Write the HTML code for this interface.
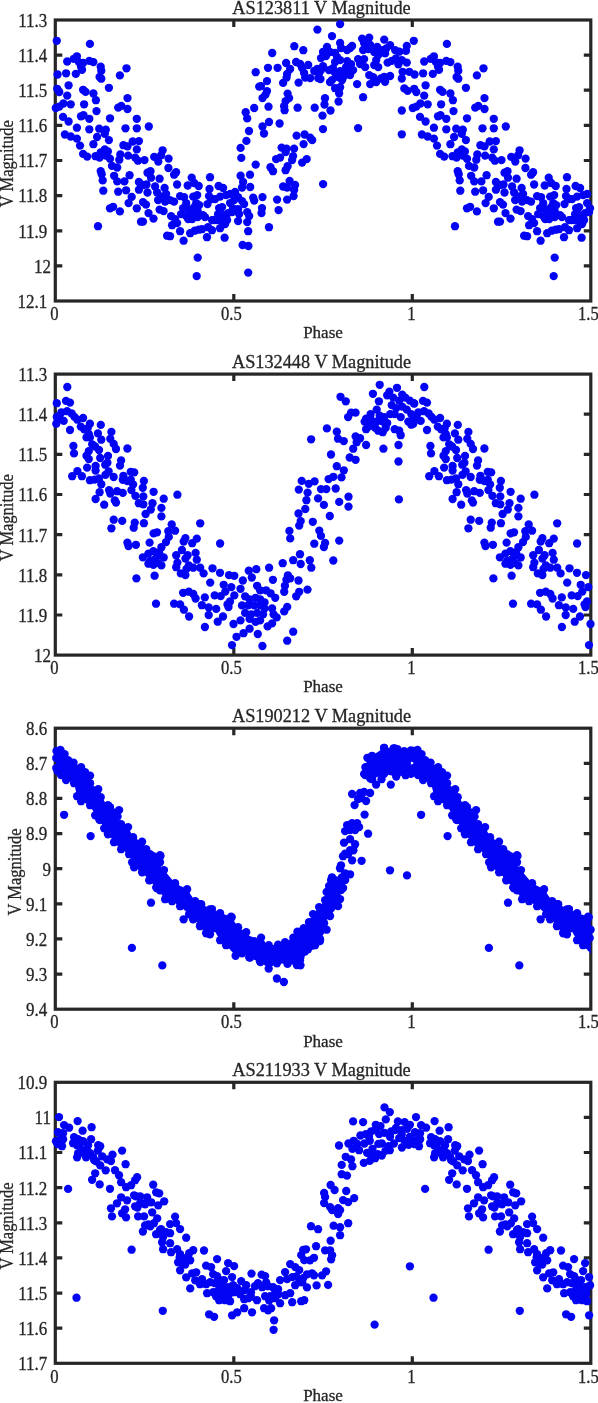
<!DOCTYPE html><html><head><meta charset="utf-8"><style>html,body{margin:0;padding:0;background:#fff;overflow:hidden}svg{display:block}text{filter:grayscale(1);stroke:#262626;stroke-width:0.3px}</style></head><body>
<svg width="598" height="1403" viewBox="0 0 598 1403" font-family="Liberation Serif" fill="#262626">
<defs><clipPath id="clipR"><rect x="0" y="0" width="595.5" height="1403"/></clipPath><clipPath id="clipD"><rect x="0" y="0" width="590.8" height="1403"/></clipPath></defs>
<rect x="55.3" y="20.0" width="535.5" height="281.0" fill="none" stroke="#262626" stroke-width="3.2"/>
<path d="M55.3 55.1h7M590.8 55.1h-7M55.3 90.2h7M590.8 90.2h-7M55.3 125.4h7M590.8 125.4h-7M55.3 160.5h7M590.8 160.5h-7M55.3 195.6h7M590.8 195.6h-7M55.3 230.8h7M590.8 230.8h-7M55.3 265.9h7M590.8 265.9h-7M233.8 20.0v7M233.8 301.0v-7M412.3 20.0v7M412.3 301.0v-7" stroke="#262626" stroke-width="3.2" fill="none"/>
<text transform="translate(47.3,26.8) scale(0.93,1)" font-size="18.3" text-anchor="end">11.3</text>
<text transform="translate(47.3,61.9) scale(0.93,1)" font-size="18.3" text-anchor="end">11.4</text>
<text transform="translate(47.3,97.0) scale(0.93,1)" font-size="18.3" text-anchor="end">11.5</text>
<text transform="translate(47.3,132.2) scale(0.93,1)" font-size="18.3" text-anchor="end">11.6</text>
<text transform="translate(47.3,167.3) scale(0.93,1)" font-size="18.3" text-anchor="end">11.7</text>
<text transform="translate(47.3,202.4) scale(0.93,1)" font-size="18.3" text-anchor="end">11.8</text>
<text transform="translate(47.3,237.6) scale(0.93,1)" font-size="18.3" text-anchor="end">11.9</text>
<text transform="translate(51.0,272.7) scale(0.93,1)" font-size="18.3" text-anchor="end">12</text>
<text transform="translate(47.3,307.8) scale(0.93,1)" font-size="18.3" text-anchor="end">12.1</text>
<text transform="translate(54.5,320.2) scale(0.9,1)" font-size="18.5" text-anchor="middle">0</text>
<text transform="translate(231.3,320.2) scale(0.9,1)" font-size="18.5" text-anchor="middle">0.5</text>
<text transform="translate(411.5,320.2) scale(0.9,1)" font-size="18.5" text-anchor="middle">1</text>
<text transform="translate(588.3,320.2) scale(0.9,1)" font-size="18.5" text-anchor="middle">1.5</text>
<text x="323.0" y="338.3" font-size="17" text-anchor="middle">Phase</text>
<text x="321.5" y="13.7" font-size="18.3" text-anchor="middle">AS123811 V Magnitude</text>
<text transform="translate(13.2,163.7) rotate(-90) scale(0.915,1)" font-size="18" text-anchor="middle">V Magnitude</text>
<g fill="#0404f4" clip-path="url(#clipR)"><circle cx="211.9" cy="199.0" r="4.15"/><circle cx="568.9" cy="199.0" r="4.15"/><circle cx="223.6" cy="215.4" r="4.15"/><circle cx="580.6" cy="215.4" r="4.15"/><circle cx="214.3" cy="220.0" r="4.15"/><circle cx="571.3" cy="220.0" r="4.15"/><circle cx="233.0" cy="208.3" r="4.15"/><circle cx="590.0" cy="208.3" r="4.15"/><circle cx="56.8" cy="40.8" r="4.15"/><circle cx="413.8" cy="40.8" r="4.15"/><circle cx="89.9" cy="43.9" r="4.15"/><circle cx="446.9" cy="43.9" r="4.15"/><circle cx="76.9" cy="56.3" r="4.15"/><circle cx="433.9" cy="56.3" r="4.15"/><circle cx="73.8" cy="58.8" r="4.15"/><circle cx="430.8" cy="58.8" r="4.15"/><circle cx="67.2" cy="61.5" r="4.15"/><circle cx="424.2" cy="61.5" r="4.15"/><circle cx="78.9" cy="62.1" r="4.15"/><circle cx="435.9" cy="62.1" r="4.15"/><circle cx="83.1" cy="63.0" r="4.15"/><circle cx="440.1" cy="63.0" r="4.15"/><circle cx="89.3" cy="60.9" r="4.15"/><circle cx="446.3" cy="60.9" r="4.15"/><circle cx="93.4" cy="62.1" r="4.15"/><circle cx="450.4" cy="62.1" r="4.15"/><circle cx="81.0" cy="66.7" r="4.15"/><circle cx="438.0" cy="66.7" r="4.15"/><circle cx="82.0" cy="69.8" r="4.15"/><circle cx="439.0" cy="69.8" r="4.15"/><circle cx="100.7" cy="66.7" r="4.15"/><circle cx="457.7" cy="66.7" r="4.15"/><circle cx="101.3" cy="70.8" r="4.15"/><circle cx="458.3" cy="70.8" r="4.15"/><circle cx="126.5" cy="68.3" r="4.15"/><circle cx="483.5" cy="68.3" r="4.15"/><circle cx="57.6" cy="74.5" r="4.15"/><circle cx="414.6" cy="74.5" r="4.15"/><circle cx="66.1" cy="73.3" r="4.15"/><circle cx="423.1" cy="73.3" r="4.15"/><circle cx="75.8" cy="73.9" r="4.15"/><circle cx="432.8" cy="73.9" r="4.15"/><circle cx="99.6" cy="77.0" r="4.15"/><circle cx="456.6" cy="77.0" r="4.15"/><circle cx="101.3" cy="78.7" r="4.15"/><circle cx="458.3" cy="78.7" r="4.15"/><circle cx="119.9" cy="75.4" r="4.15"/><circle cx="476.9" cy="75.4" r="4.15"/><circle cx="68.6" cy="85.3" r="4.15"/><circle cx="425.6" cy="85.3" r="4.15"/><circle cx="108.9" cy="87.8" r="4.15"/><circle cx="465.9" cy="87.8" r="4.15"/><circle cx="57.2" cy="88.8" r="4.15"/><circle cx="414.2" cy="88.8" r="4.15"/><circle cx="59.3" cy="92.1" r="4.15"/><circle cx="416.3" cy="92.1" r="4.15"/><circle cx="83.1" cy="89.8" r="4.15"/><circle cx="440.1" cy="89.8" r="4.15"/><circle cx="85.6" cy="91.9" r="4.15"/><circle cx="442.6" cy="91.9" r="4.15"/><circle cx="67.2" cy="95.6" r="4.15"/><circle cx="424.2" cy="95.6" r="4.15"/><circle cx="93.4" cy="93.5" r="4.15"/><circle cx="450.4" cy="93.5" r="4.15"/><circle cx="95.9" cy="100.2" r="4.15"/><circle cx="452.9" cy="100.2" r="4.15"/><circle cx="127.5" cy="98.1" r="4.15"/><circle cx="484.5" cy="98.1" r="4.15"/><circle cx="63.4" cy="103.5" r="4.15"/><circle cx="420.4" cy="103.5" r="4.15"/><circle cx="70.7" cy="104.3" r="4.15"/><circle cx="427.7" cy="104.3" r="4.15"/><circle cx="55.8" cy="108.0" r="4.15"/><circle cx="412.8" cy="108.0" r="4.15"/><circle cx="59.3" cy="106.6" r="4.15"/><circle cx="416.3" cy="106.6" r="4.15"/><circle cx="84.1" cy="104.3" r="4.15"/><circle cx="441.1" cy="104.3" r="4.15"/><circle cx="118.2" cy="107.6" r="4.15"/><circle cx="475.2" cy="107.6" r="4.15"/><circle cx="121.3" cy="105.9" r="4.15"/><circle cx="478.3" cy="105.9" r="4.15"/><circle cx="127.5" cy="109.0" r="4.15"/><circle cx="484.5" cy="109.0" r="4.15"/><circle cx="96.5" cy="111.1" r="4.15"/><circle cx="453.5" cy="111.1" r="4.15"/><circle cx="63.0" cy="116.9" r="4.15"/><circle cx="420.0" cy="116.9" r="4.15"/><circle cx="68.6" cy="121.5" r="4.15"/><circle cx="425.6" cy="121.5" r="4.15"/><circle cx="81.0" cy="116.3" r="4.15"/><circle cx="438.0" cy="116.3" r="4.15"/><circle cx="83.5" cy="115.2" r="4.15"/><circle cx="440.5" cy="115.2" r="4.15"/><circle cx="89.3" cy="118.8" r="4.15"/><circle cx="446.3" cy="118.8" r="4.15"/><circle cx="110.0" cy="118.3" r="4.15"/><circle cx="467.0" cy="118.3" r="4.15"/><circle cx="136.8" cy="118.8" r="4.15"/><circle cx="493.8" cy="118.8" r="4.15"/><circle cx="76.9" cy="127.7" r="4.15"/><circle cx="433.9" cy="127.7" r="4.15"/><circle cx="89.3" cy="129.3" r="4.15"/><circle cx="446.3" cy="129.3" r="4.15"/><circle cx="99.2" cy="128.7" r="4.15"/><circle cx="456.2" cy="128.7" r="4.15"/><circle cx="105.8" cy="129.7" r="4.15"/><circle cx="462.8" cy="129.7" r="4.15"/><circle cx="125.5" cy="128.3" r="4.15"/><circle cx="482.5" cy="128.3" r="4.15"/><circle cx="136.8" cy="128.3" r="4.15"/><circle cx="493.8" cy="128.3" r="4.15"/><circle cx="64.9" cy="134.5" r="4.15"/><circle cx="421.9" cy="134.5" r="4.15"/><circle cx="70.7" cy="136.5" r="4.15"/><circle cx="427.7" cy="136.5" r="4.15"/><circle cx="76.9" cy="138.6" r="4.15"/><circle cx="433.9" cy="138.6" r="4.15"/><circle cx="80.0" cy="145.6" r="4.15"/><circle cx="437.0" cy="145.6" r="4.15"/><circle cx="97.1" cy="137.0" r="4.15"/><circle cx="454.1" cy="137.0" r="4.15"/><circle cx="104.8" cy="133.9" r="4.15"/><circle cx="461.8" cy="133.9" r="4.15"/><circle cx="108.9" cy="140.1" r="4.15"/><circle cx="465.9" cy="140.1" r="4.15"/><circle cx="93.4" cy="144.2" r="4.15"/><circle cx="450.4" cy="144.2" r="4.15"/><circle cx="123.4" cy="145.2" r="4.15"/><circle cx="480.4" cy="145.2" r="4.15"/><circle cx="127.5" cy="146.3" r="4.15"/><circle cx="484.5" cy="146.3" r="4.15"/><circle cx="132.7" cy="141.5" r="4.15"/><circle cx="489.7" cy="141.5" r="4.15"/><circle cx="83.1" cy="153.9" r="4.15"/><circle cx="440.1" cy="153.9" r="4.15"/><circle cx="87.2" cy="156.6" r="4.15"/><circle cx="444.2" cy="156.6" r="4.15"/><circle cx="95.5" cy="156.2" r="4.15"/><circle cx="452.5" cy="156.2" r="4.15"/><circle cx="100.7" cy="152.5" r="4.15"/><circle cx="457.7" cy="152.5" r="4.15"/><circle cx="99.6" cy="157.6" r="4.15"/><circle cx="456.6" cy="157.6" r="4.15"/><circle cx="104.8" cy="149.4" r="4.15"/><circle cx="461.8" cy="149.4" r="4.15"/><circle cx="107.9" cy="151.4" r="4.15"/><circle cx="464.9" cy="151.4" r="4.15"/><circle cx="105.8" cy="155.6" r="4.15"/><circle cx="462.8" cy="155.6" r="4.15"/><circle cx="110.0" cy="158.7" r="4.15"/><circle cx="467.0" cy="158.7" r="4.15"/><circle cx="112.0" cy="165.9" r="4.15"/><circle cx="469.0" cy="165.9" r="4.15"/><circle cx="117.2" cy="167.5" r="4.15"/><circle cx="474.2" cy="167.5" r="4.15"/><circle cx="120.3" cy="154.5" r="4.15"/><circle cx="477.3" cy="154.5" r="4.15"/><circle cx="119.3" cy="159.7" r="4.15"/><circle cx="476.3" cy="159.7" r="4.15"/><circle cx="128.1" cy="155.6" r="4.15"/><circle cx="485.1" cy="155.6" r="4.15"/><circle cx="136.8" cy="149.4" r="4.15"/><circle cx="493.8" cy="149.4" r="4.15"/><circle cx="135.2" cy="157.6" r="4.15"/><circle cx="492.2" cy="157.6" r="4.15"/><circle cx="137.9" cy="160.7" r="4.15"/><circle cx="494.9" cy="160.7" r="4.15"/><circle cx="100.7" cy="171.1" r="4.15"/><circle cx="457.7" cy="171.1" r="4.15"/><circle cx="101.7" cy="174.2" r="4.15"/><circle cx="458.7" cy="174.2" r="4.15"/><circle cx="102.7" cy="180.4" r="4.15"/><circle cx="459.7" cy="180.4" r="4.15"/><circle cx="103.3" cy="190.7" r="4.15"/><circle cx="460.3" cy="190.7" r="4.15"/><circle cx="114.1" cy="175.8" r="4.15"/><circle cx="471.1" cy="175.8" r="4.15"/><circle cx="117.2" cy="181.4" r="4.15"/><circle cx="474.2" cy="181.4" r="4.15"/><circle cx="124.4" cy="181.4" r="4.15"/><circle cx="481.4" cy="181.4" r="4.15"/><circle cx="129.6" cy="175.2" r="4.15"/><circle cx="486.6" cy="175.2" r="4.15"/><circle cx="118.2" cy="191.7" r="4.15"/><circle cx="475.2" cy="191.7" r="4.15"/><circle cx="126.1" cy="190.3" r="4.15"/><circle cx="483.1" cy="190.3" r="4.15"/><circle cx="131.7" cy="196.9" r="4.15"/><circle cx="488.7" cy="196.9" r="4.15"/><circle cx="128.6" cy="203.1" r="4.15"/><circle cx="485.6" cy="203.1" r="4.15"/><circle cx="136.8" cy="208.3" r="4.15"/><circle cx="493.8" cy="208.3" r="4.15"/><circle cx="110.0" cy="208.3" r="4.15"/><circle cx="467.0" cy="208.3" r="4.15"/><circle cx="113.1" cy="206.8" r="4.15"/><circle cx="470.1" cy="206.8" r="4.15"/><circle cx="119.9" cy="211.4" r="4.15"/><circle cx="476.9" cy="211.4" r="4.15"/><circle cx="98.0" cy="226.2" r="4.15"/><circle cx="455.0" cy="226.2" r="4.15"/><circle cx="138.9" cy="141.1" r="4.15"/><circle cx="495.9" cy="141.1" r="4.15"/><circle cx="138.9" cy="182.0" r="4.15"/><circle cx="495.9" cy="182.0" r="4.15"/><circle cx="138.9" cy="189.7" r="4.15"/><circle cx="495.9" cy="189.7" r="4.15"/><circle cx="141.0" cy="221.7" r="4.15"/><circle cx="498.0" cy="221.7" r="4.15"/><circle cx="148.8" cy="126.5" r="4.15"/><circle cx="505.8" cy="126.5" r="4.15"/><circle cx="162.6" cy="150.3" r="4.15"/><circle cx="519.6" cy="150.3" r="4.15"/><circle cx="154.2" cy="156.9" r="4.15"/><circle cx="511.2" cy="156.9" r="4.15"/><circle cx="161.1" cy="155.3" r="4.15"/><circle cx="518.1" cy="155.3" r="4.15"/><circle cx="158.3" cy="161.6" r="4.15"/><circle cx="515.3" cy="161.6" r="4.15"/><circle cx="168.6" cy="158.6" r="4.15"/><circle cx="525.6" cy="158.6" r="4.15"/><circle cx="144.5" cy="160.1" r="4.15"/><circle cx="501.5" cy="160.1" r="4.15"/><circle cx="168.4" cy="168.0" r="4.15"/><circle cx="525.4" cy="168.0" r="4.15"/><circle cx="176.1" cy="172.2" r="4.15"/><circle cx="533.1" cy="172.2" r="4.15"/><circle cx="174.1" cy="174.7" r="4.15"/><circle cx="531.1" cy="174.7" r="4.15"/><circle cx="147.5" cy="172.7" r="4.15"/><circle cx="504.5" cy="172.7" r="4.15"/><circle cx="150.5" cy="171.2" r="4.15"/><circle cx="507.5" cy="171.2" r="4.15"/><circle cx="151.0" cy="177.7" r="4.15"/><circle cx="508.0" cy="177.7" r="4.15"/><circle cx="159.6" cy="178.7" r="4.15"/><circle cx="516.6" cy="178.7" r="4.15"/><circle cx="191.7" cy="177.7" r="4.15"/><circle cx="548.7" cy="177.7" r="4.15"/><circle cx="143.0" cy="185.0" r="4.15"/><circle cx="500.0" cy="185.0" r="4.15"/><circle cx="146.5" cy="184.5" r="4.15"/><circle cx="503.5" cy="184.5" r="4.15"/><circle cx="147.5" cy="192.5" r="4.15"/><circle cx="504.5" cy="192.5" r="4.15"/><circle cx="155.1" cy="186.5" r="4.15"/><circle cx="512.1" cy="186.5" r="4.15"/><circle cx="164.6" cy="188.0" r="4.15"/><circle cx="521.6" cy="188.0" r="4.15"/><circle cx="177.1" cy="184.5" r="4.15"/><circle cx="534.1" cy="184.5" r="4.15"/><circle cx="187.7" cy="185.5" r="4.15"/><circle cx="544.7" cy="185.5" r="4.15"/><circle cx="194.2" cy="183.0" r="4.15"/><circle cx="551.2" cy="183.0" r="4.15"/><circle cx="198.7" cy="186.0" r="4.15"/><circle cx="555.7" cy="186.0" r="4.15"/><circle cx="157.1" cy="192.5" r="4.15"/><circle cx="514.1" cy="192.5" r="4.15"/><circle cx="161.6" cy="196.6" r="4.15"/><circle cx="518.6" cy="196.6" r="4.15"/><circle cx="158.1" cy="200.1" r="4.15"/><circle cx="515.1" cy="200.1" r="4.15"/><circle cx="166.1" cy="194.0" r="4.15"/><circle cx="523.1" cy="194.0" r="4.15"/><circle cx="170.1" cy="200.1" r="4.15"/><circle cx="527.1" cy="200.1" r="4.15"/><circle cx="174.1" cy="201.6" r="4.15"/><circle cx="531.1" cy="201.6" r="4.15"/><circle cx="180.1" cy="196.1" r="4.15"/><circle cx="537.1" cy="196.1" r="4.15"/><circle cx="184.1" cy="197.1" r="4.15"/><circle cx="541.1" cy="197.1" r="4.15"/><circle cx="186.2" cy="203.1" r="4.15"/><circle cx="543.2" cy="203.1" r="4.15"/><circle cx="193.2" cy="196.6" r="4.15"/><circle cx="550.2" cy="196.6" r="4.15"/><circle cx="197.2" cy="195.1" r="4.15"/><circle cx="554.2" cy="195.1" r="4.15"/><circle cx="196.2" cy="203.1" r="4.15"/><circle cx="553.2" cy="203.1" r="4.15"/><circle cx="143.0" cy="202.1" r="4.15"/><circle cx="500.0" cy="202.1" r="4.15"/><circle cx="146.0" cy="204.6" r="4.15"/><circle cx="503.0" cy="204.6" r="4.15"/><circle cx="159.6" cy="209.6" r="4.15"/><circle cx="516.6" cy="209.6" r="4.15"/><circle cx="163.6" cy="211.1" r="4.15"/><circle cx="520.6" cy="211.1" r="4.15"/><circle cx="148.5" cy="213.1" r="4.15"/><circle cx="505.5" cy="213.1" r="4.15"/><circle cx="153.5" cy="218.6" r="4.15"/><circle cx="510.5" cy="218.6" r="4.15"/><circle cx="143.0" cy="221.6" r="4.15"/><circle cx="500.0" cy="221.6" r="4.15"/><circle cx="171.1" cy="216.1" r="4.15"/><circle cx="528.1" cy="216.1" r="4.15"/><circle cx="175.1" cy="219.1" r="4.15"/><circle cx="532.1" cy="219.1" r="4.15"/><circle cx="181.1" cy="214.1" r="4.15"/><circle cx="538.1" cy="214.1" r="4.15"/><circle cx="186.2" cy="216.1" r="4.15"/><circle cx="543.2" cy="216.1" r="4.15"/><circle cx="188.2" cy="219.1" r="4.15"/><circle cx="545.2" cy="219.1" r="4.15"/><circle cx="192.2" cy="212.1" r="4.15"/><circle cx="549.2" cy="212.1" r="4.15"/><circle cx="197.7" cy="211.1" r="4.15"/><circle cx="554.7" cy="211.1" r="4.15"/><circle cx="197.7" cy="217.1" r="4.15"/><circle cx="554.7" cy="217.1" r="4.15"/><circle cx="172.1" cy="225.2" r="4.15"/><circle cx="529.1" cy="225.2" r="4.15"/><circle cx="177.1" cy="223.1" r="4.15"/><circle cx="534.1" cy="223.1" r="4.15"/><circle cx="180.1" cy="231.2" r="4.15"/><circle cx="537.1" cy="231.2" r="4.15"/><circle cx="170.1" cy="236.2" r="4.15"/><circle cx="527.1" cy="236.2" r="4.15"/><circle cx="167.1" cy="235.7" r="4.15"/><circle cx="524.1" cy="235.7" r="4.15"/><circle cx="183.6" cy="240.7" r="4.15"/><circle cx="540.6" cy="240.7" r="4.15"/><circle cx="190.2" cy="233.2" r="4.15"/><circle cx="547.2" cy="233.2" r="4.15"/><circle cx="194.7" cy="230.7" r="4.15"/><circle cx="551.7" cy="230.7" r="4.15"/><circle cx="198.7" cy="229.7" r="4.15"/><circle cx="555.7" cy="229.7" r="4.15"/><circle cx="188.2" cy="209.1" r="4.15"/><circle cx="545.2" cy="209.1" r="4.15"/><circle cx="183.1" cy="208.1" r="4.15"/><circle cx="540.1" cy="208.1" r="4.15"/><circle cx="194.2" cy="207.1" r="4.15"/><circle cx="551.2" cy="207.1" r="4.15"/><circle cx="199.2" cy="205.1" r="4.15"/><circle cx="556.2" cy="205.1" r="4.15"/><circle cx="192.2" cy="219.1" r="4.15"/><circle cx="549.2" cy="219.1" r="4.15"/><circle cx="165.1" cy="201.6" r="4.15"/><circle cx="522.1" cy="201.6" r="4.15"/><circle cx="197.7" cy="257.6" r="4.15"/><circle cx="554.7" cy="257.6" r="4.15"/><circle cx="196.7" cy="276.1" r="4.15"/><circle cx="553.7" cy="276.1" r="4.15"/><circle cx="249.0" cy="131.0" r="4.15"/><circle cx="246.4" cy="140.9" r="4.15"/><circle cx="240.6" cy="147.9" r="4.15"/><circle cx="241.3" cy="157.9" r="4.15"/><circle cx="255.7" cy="164.6" r="4.15"/><circle cx="240.6" cy="175.7" r="4.15"/><circle cx="250.0" cy="174.7" r="4.15"/><circle cx="210.0" cy="177.2" r="4.15"/><circle cx="567.0" cy="177.2" r="4.15"/><circle cx="243.1" cy="182.0" r="4.15"/><circle cx="250.2" cy="187.0" r="4.15"/><circle cx="242.1" cy="187.5" r="4.15"/><circle cx="218.6" cy="186.0" r="4.15"/><circle cx="575.6" cy="186.0" r="4.15"/><circle cx="223.1" cy="188.0" r="4.15"/><circle cx="580.1" cy="188.0" r="4.15"/><circle cx="209.5" cy="189.0" r="4.15"/><circle cx="566.5" cy="189.0" r="4.15"/><circle cx="209.0" cy="196.1" r="4.15"/><circle cx="566.0" cy="196.1" r="4.15"/><circle cx="207.5" cy="204.1" r="4.15"/><circle cx="564.5" cy="204.1" r="4.15"/><circle cx="215.1" cy="199.1" r="4.15"/><circle cx="572.1" cy="199.1" r="4.15"/><circle cx="220.1" cy="196.6" r="4.15"/><circle cx="577.1" cy="196.6" r="4.15"/><circle cx="226.1" cy="195.1" r="4.15"/><circle cx="583.1" cy="195.1" r="4.15"/><circle cx="230.1" cy="194.0" r="4.15"/><circle cx="587.1" cy="194.0" r="4.15"/><circle cx="235.1" cy="192.0" r="4.15"/><circle cx="238.1" cy="197.1" r="4.15"/><circle cx="230.1" cy="203.1" r="4.15"/><circle cx="587.1" cy="203.1" r="4.15"/><circle cx="234.1" cy="200.1" r="4.15"/><circle cx="242.1" cy="201.1" r="4.15"/><circle cx="244.1" cy="204.1" r="4.15"/><circle cx="253.2" cy="197.6" r="4.15"/><circle cx="254.2" cy="200.6" r="4.15"/><circle cx="219.1" cy="208.1" r="4.15"/><circle cx="576.1" cy="208.1" r="4.15"/><circle cx="222.1" cy="207.1" r="4.15"/><circle cx="579.1" cy="207.1" r="4.15"/><circle cx="218.1" cy="214.1" r="4.15"/><circle cx="575.1" cy="214.1" r="4.15"/><circle cx="223.1" cy="215.1" r="4.15"/><circle cx="580.1" cy="215.1" r="4.15"/><circle cx="228.1" cy="213.1" r="4.15"/><circle cx="585.1" cy="213.1" r="4.15"/><circle cx="232.1" cy="212.1" r="4.15"/><circle cx="589.1" cy="212.1" r="4.15"/><circle cx="238.1" cy="209.1" r="4.15"/><circle cx="239.1" cy="214.1" r="4.15"/><circle cx="247.2" cy="212.1" r="4.15"/><circle cx="249.2" cy="216.1" r="4.15"/><circle cx="203.0" cy="215.1" r="4.15"/><circle cx="560.0" cy="215.1" r="4.15"/><circle cx="205.0" cy="217.1" r="4.15"/><circle cx="562.0" cy="217.1" r="4.15"/><circle cx="212.0" cy="220.1" r="4.15"/><circle cx="569.0" cy="220.1" r="4.15"/><circle cx="217.1" cy="220.1" r="4.15"/><circle cx="574.1" cy="220.1" r="4.15"/><circle cx="222.1" cy="221.1" r="4.15"/><circle cx="579.1" cy="221.1" r="4.15"/><circle cx="227.1" cy="220.1" r="4.15"/><circle cx="584.1" cy="220.1" r="4.15"/><circle cx="238.1" cy="221.1" r="4.15"/><circle cx="247.2" cy="222.1" r="4.15"/><circle cx="202.0" cy="229.2" r="4.15"/><circle cx="559.0" cy="229.2" r="4.15"/><circle cx="208.0" cy="227.2" r="4.15"/><circle cx="565.0" cy="227.2" r="4.15"/><circle cx="212.0" cy="230.2" r="4.15"/><circle cx="569.0" cy="230.2" r="4.15"/><circle cx="220.1" cy="228.2" r="4.15"/><circle cx="577.1" cy="228.2" r="4.15"/><circle cx="225.1" cy="224.1" r="4.15"/><circle cx="582.1" cy="224.1" r="4.15"/><circle cx="248.2" cy="231.2" r="4.15"/><circle cx="207.0" cy="237.2" r="4.15"/><circle cx="564.0" cy="237.2" r="4.15"/><circle cx="224.6" cy="237.7" r="4.15"/><circle cx="581.6" cy="237.7" r="4.15"/><circle cx="242.6" cy="245.0" r="4.15"/><circle cx="248.4" cy="246.0" r="4.15"/><circle cx="248.2" cy="272.6" r="4.15"/><circle cx="255.7" cy="72.2" r="4.15"/><circle cx="259.2" cy="86.6" r="4.15"/><circle cx="254.2" cy="108.0" r="4.15"/><circle cx="245.7" cy="112.2" r="4.15"/><circle cx="247.2" cy="118.4" r="4.15"/><circle cx="317.4" cy="29.6" r="4.15"/><circle cx="294.3" cy="46.2" r="4.15"/><circle cx="303.3" cy="50.2" r="4.15"/><circle cx="272.2" cy="53.0" r="4.15"/><circle cx="269.0" cy="122.0" r="4.15"/><circle cx="279.6" cy="123.5" r="4.15"/><circle cx="262.5" cy="126.5" r="4.15"/><circle cx="264.0" cy="133.5" r="4.15"/><circle cx="296.6" cy="135.6" r="4.15"/><circle cx="304.6" cy="134.5" r="4.15"/><circle cx="310.2" cy="137.6" r="4.15"/><circle cx="312.2" cy="140.1" r="4.15"/><circle cx="303.6" cy="144.1" r="4.15"/><circle cx="281.6" cy="147.6" r="4.15"/><circle cx="286.6" cy="148.6" r="4.15"/><circle cx="294.1" cy="148.6" r="4.15"/><circle cx="285.6" cy="152.1" r="4.15"/><circle cx="293.1" cy="156.1" r="4.15"/><circle cx="292.1" cy="160.1" r="4.15"/><circle cx="276.1" cy="159.1" r="4.15"/><circle cx="280.1" cy="157.6" r="4.15"/><circle cx="302.1" cy="162.6" r="4.15"/><circle cx="306.7" cy="159.1" r="4.15"/><circle cx="270.5" cy="167.2" r="4.15"/><circle cx="273.0" cy="171.2" r="4.15"/><circle cx="287.6" cy="166.2" r="4.15"/><circle cx="285.6" cy="170.2" r="4.15"/><circle cx="289.6" cy="181.0" r="4.15"/><circle cx="283.1" cy="186.5" r="4.15"/><circle cx="287.1" cy="187.5" r="4.15"/><circle cx="295.1" cy="185.0" r="4.15"/><circle cx="294.1" cy="190.0" r="4.15"/><circle cx="293.6" cy="196.1" r="4.15"/><circle cx="287.1" cy="199.6" r="4.15"/><circle cx="262.5" cy="197.1" r="4.15"/><circle cx="277.1" cy="199.6" r="4.15"/><circle cx="278.6" cy="210.1" r="4.15"/><circle cx="262.0" cy="208.1" r="4.15"/><circle cx="261.5" cy="213.1" r="4.15"/><circle cx="269.0" cy="227.2" r="4.15"/><circle cx="286.1" cy="63.0" r="4.15"/><circle cx="296.1" cy="62.0" r="4.15"/><circle cx="300.1" cy="64.0" r="4.15"/><circle cx="268.0" cy="67.8" r="4.15"/><circle cx="277.6" cy="67.8" r="4.15"/><circle cx="290.1" cy="69.0" r="4.15"/><circle cx="287.1" cy="74.0" r="4.15"/><circle cx="286.6" cy="77.6" r="4.15"/><circle cx="302.1" cy="68.0" r="4.15"/><circle cx="308.2" cy="65.0" r="4.15"/><circle cx="304.1" cy="73.0" r="4.15"/><circle cx="305.2" cy="77.6" r="4.15"/><circle cx="310.2" cy="78.1" r="4.15"/><circle cx="314.2" cy="71.0" r="4.15"/><circle cx="317.2" cy="69.0" r="4.15"/><circle cx="318.2" cy="78.1" r="4.15"/><circle cx="319.2" cy="73.0" r="4.15"/><circle cx="298.6" cy="82.6" r="4.15"/><circle cx="283.1" cy="82.9" r="4.15"/><circle cx="267.0" cy="81.1" r="4.15"/><circle cx="261.0" cy="86.1" r="4.15"/><circle cx="267.0" cy="91.1" r="4.15"/><circle cx="265.5" cy="94.6" r="4.15"/><circle cx="262.5" cy="98.1" r="4.15"/><circle cx="287.6" cy="93.6" r="4.15"/><circle cx="289.1" cy="98.1" r="4.15"/><circle cx="285.6" cy="101.1" r="4.15"/><circle cx="284.1" cy="106.2" r="4.15"/><circle cx="284.6" cy="110.2" r="4.15"/><circle cx="268.5" cy="106.7" r="4.15"/><circle cx="297.6" cy="107.7" r="4.15"/><circle cx="314.7" cy="107.7" r="4.15"/><circle cx="340.1" cy="24.1" r="4.15"/><circle cx="332.0" cy="36.1" r="4.15"/><circle cx="362.1" cy="38.6" r="4.15"/><circle cx="369.2" cy="37.6" r="4.15"/><circle cx="324.5" cy="104.5" r="4.15"/><circle cx="338.6" cy="101.5" r="4.15"/><circle cx="330.5" cy="110.5" r="4.15"/><circle cx="322.5" cy="115.6" r="4.15"/><circle cx="323.0" cy="129.1" r="4.15"/><circle cx="358.1" cy="128.1" r="4.15"/><circle cx="323.1" cy="184.1" r="4.15"/><circle cx="327.0" cy="47.0" r="4.15"/><circle cx="323.0" cy="52.0" r="4.15"/><circle cx="330.0" cy="52.0" r="4.15"/><circle cx="326.0" cy="56.1" r="4.15"/><circle cx="321.0" cy="58.1" r="4.15"/><circle cx="340.1" cy="43.0" r="4.15"/><circle cx="341.1" cy="48.0" r="4.15"/><circle cx="350.1" cy="48.0" r="4.15"/><circle cx="352.1" cy="46.0" r="4.15"/><circle cx="347.1" cy="50.0" r="4.15"/><circle cx="364.1" cy="43.0" r="4.15"/><circle cx="370.2" cy="45.0" r="4.15"/><circle cx="363.1" cy="50.0" r="4.15"/><circle cx="368.2" cy="49.0" r="4.15"/><circle cx="374.2" cy="52.0" r="4.15"/><circle cx="377.2" cy="47.0" r="4.15"/><circle cx="378.2" cy="55.1" r="4.15"/><circle cx="376.2" cy="60.1" r="4.15"/><circle cx="374.2" cy="65.1" r="4.15"/><circle cx="378.2" cy="67.1" r="4.15"/><circle cx="337.1" cy="57.1" r="4.15"/><circle cx="335.1" cy="62.1" r="4.15"/><circle cx="340.1" cy="60.1" r="4.15"/><circle cx="347.1" cy="61.1" r="4.15"/><circle cx="351.1" cy="64.1" r="4.15"/><circle cx="346.1" cy="67.1" r="4.15"/><circle cx="358.1" cy="59.1" r="4.15"/><circle cx="364.1" cy="59.1" r="4.15"/><circle cx="360.1" cy="64.1" r="4.15"/><circle cx="365.2" cy="67.1" r="4.15"/><circle cx="323.0" cy="66.1" r="4.15"/><circle cx="321.0" cy="70.1" r="4.15"/><circle cx="329.0" cy="70.1" r="4.15"/><circle cx="333.0" cy="68.1" r="4.15"/><circle cx="335.1" cy="73.1" r="4.15"/><circle cx="340.1" cy="71.1" r="4.15"/><circle cx="346.1" cy="72.1" r="4.15"/><circle cx="350.1" cy="75.1" r="4.15"/><circle cx="338.1" cy="77.1" r="4.15"/><circle cx="342.1" cy="80.1" r="4.15"/><circle cx="332.0" cy="80.1" r="4.15"/><circle cx="330.0" cy="82.1" r="4.15"/><circle cx="335.1" cy="88.2" r="4.15"/><circle cx="340.1" cy="87.2" r="4.15"/><circle cx="339.1" cy="93.2" r="4.15"/><circle cx="357.1" cy="84.1" r="4.15"/><circle cx="369.2" cy="75.1" r="4.15"/><circle cx="373.2" cy="77.1" r="4.15"/><circle cx="370.2" cy="84.1" r="4.15"/><circle cx="376.2" cy="82.1" r="4.15"/><circle cx="320.5" cy="79.1" r="4.15"/><circle cx="363.1" cy="97.2" r="4.15"/><circle cx="325.0" cy="98.2" r="4.15"/><circle cx="348.1" cy="70.1" r="4.15"/><circle cx="344.1" cy="76.1" r="4.15"/><circle cx="335.1" cy="53.0" r="4.15"/><circle cx="353.1" cy="70.1" r="4.15"/><circle cx="384.2" cy="39.6" r="4.15"/><circle cx="406.8" cy="45.9" r="4.15"/><circle cx="406.0" cy="50.9" r="4.15"/><circle cx="390.1" cy="45.1" r="4.15"/><circle cx="386.3" cy="48.4" r="4.15"/><circle cx="395.1" cy="50.1" r="4.15"/><circle cx="399.3" cy="51.7" r="4.15"/><circle cx="385.1" cy="53.4" r="4.15"/><circle cx="382.5" cy="50.1" r="4.15"/><circle cx="395.9" cy="58.4" r="4.15"/><circle cx="401.8" cy="60.1" r="4.15"/><circle cx="406.8" cy="62.6" r="4.15"/><circle cx="387.6" cy="62.6" r="4.15"/><circle cx="391.7" cy="60.9" r="4.15"/><circle cx="398.4" cy="64.3" r="4.15"/><circle cx="402.6" cy="71.8" r="4.15"/><circle cx="409.3" cy="71.8" r="4.15"/><circle cx="401.8" cy="78.5" r="4.15"/><circle cx="390.1" cy="76.0" r="4.15"/><circle cx="384.2" cy="76.8" r="4.15"/><circle cx="380.9" cy="78.5" r="4.15"/><circle cx="385.1" cy="81.8" r="4.15"/><circle cx="404.3" cy="88.4" r="4.15"/><circle cx="407.6" cy="90.9" r="4.15"/><circle cx="401.8" cy="110.5" r="4.15"/><circle cx="401.8" cy="134.3" r="4.15"/></g>
<rect x="55.3" y="374.1" width="535.5" height="281.0" fill="none" stroke="#262626" stroke-width="3.2"/>
<path d="M55.3 414.2h7M590.8 414.2h-7M55.3 454.4h7M590.8 454.4h-7M55.3 494.5h7M590.8 494.5h-7M55.3 534.7h7M590.8 534.7h-7M55.3 574.8h7M590.8 574.8h-7M55.3 615.0h7M590.8 615.0h-7M233.8 374.1v7M233.8 655.1v-7M412.3 374.1v7M412.3 655.1v-7" stroke="#262626" stroke-width="3.2" fill="none"/>
<text transform="translate(47.3,380.9) scale(0.93,1)" font-size="18.3" text-anchor="end">11.3</text>
<text transform="translate(47.3,421.0) scale(0.93,1)" font-size="18.3" text-anchor="end">11.4</text>
<text transform="translate(47.3,461.2) scale(0.93,1)" font-size="18.3" text-anchor="end">11.5</text>
<text transform="translate(47.3,501.3) scale(0.93,1)" font-size="18.3" text-anchor="end">11.6</text>
<text transform="translate(47.3,541.5) scale(0.93,1)" font-size="18.3" text-anchor="end">11.7</text>
<text transform="translate(47.3,581.6) scale(0.93,1)" font-size="18.3" text-anchor="end">11.8</text>
<text transform="translate(47.3,621.8) scale(0.93,1)" font-size="18.3" text-anchor="end">11.9</text>
<text transform="translate(51.0,661.9) scale(0.93,1)" font-size="18.3" text-anchor="end">12</text>
<text transform="translate(54.5,674.3) scale(0.9,1)" font-size="18.5" text-anchor="middle">0</text>
<text transform="translate(231.3,674.3) scale(0.9,1)" font-size="18.5" text-anchor="middle">0.5</text>
<text transform="translate(411.5,674.3) scale(0.9,1)" font-size="18.5" text-anchor="middle">1</text>
<text transform="translate(588.3,674.3) scale(0.9,1)" font-size="18.5" text-anchor="middle">1.5</text>
<text x="323.0" y="692.4" font-size="17" text-anchor="middle">Phase</text>
<text x="321.5" y="367.8" font-size="18.3" text-anchor="middle">AS132448 V Magnitude</text>
<text transform="translate(13.2,517.8) rotate(-90) scale(0.915,1)" font-size="18" text-anchor="middle">V Magnitude</text>
<g fill="#0404f4" clip-path="url(#clipR)"><circle cx="67.3" cy="387.0" r="4.15"/><circle cx="424.3" cy="387.0" r="4.15"/><circle cx="56.8" cy="403.2" r="4.15"/><circle cx="413.8" cy="403.2" r="4.15"/><circle cx="66.0" cy="400.9" r="4.15"/><circle cx="423.0" cy="400.9" r="4.15"/><circle cx="70.0" cy="402.6" r="4.15"/><circle cx="427.0" cy="402.6" r="4.15"/><circle cx="61.4" cy="412.3" r="4.15"/><circle cx="418.4" cy="412.3" r="4.15"/><circle cx="67.1" cy="411.2" r="4.15"/><circle cx="424.1" cy="411.2" r="4.15"/><circle cx="71.7" cy="413.5" r="4.15"/><circle cx="428.7" cy="413.5" r="4.15"/><circle cx="56.8" cy="416.9" r="4.15"/><circle cx="413.8" cy="416.9" r="4.15"/><circle cx="60.3" cy="419.2" r="4.15"/><circle cx="417.3" cy="419.2" r="4.15"/><circle cx="63.7" cy="420.9" r="4.15"/><circle cx="420.7" cy="420.9" r="4.15"/><circle cx="56.3" cy="423.7" r="4.15"/><circle cx="413.3" cy="423.7" r="4.15"/><circle cx="74.5" cy="416.9" r="4.15"/><circle cx="431.5" cy="416.9" r="4.15"/><circle cx="77.4" cy="419.7" r="4.15"/><circle cx="434.4" cy="419.7" r="4.15"/><circle cx="83.1" cy="418.0" r="4.15"/><circle cx="440.1" cy="418.0" r="4.15"/><circle cx="70.0" cy="430.0" r="4.15"/><circle cx="427.0" cy="430.0" r="4.15"/><circle cx="80.8" cy="426.6" r="4.15"/><circle cx="437.8" cy="426.6" r="4.15"/><circle cx="84.2" cy="429.4" r="4.15"/><circle cx="441.2" cy="429.4" r="4.15"/><circle cx="89.9" cy="423.7" r="4.15"/><circle cx="446.9" cy="423.7" r="4.15"/><circle cx="87.6" cy="428.3" r="4.15"/><circle cx="444.6" cy="428.3" r="4.15"/><circle cx="88.8" cy="434.0" r="4.15"/><circle cx="445.8" cy="434.0" r="4.15"/><circle cx="86.5" cy="437.4" r="4.15"/><circle cx="443.5" cy="437.4" r="4.15"/><circle cx="89.9" cy="437.4" r="4.15"/><circle cx="446.9" cy="437.4" r="4.15"/><circle cx="100.8" cy="424.9" r="4.15"/><circle cx="457.8" cy="424.9" r="4.15"/><circle cx="97.9" cy="433.4" r="4.15"/><circle cx="454.9" cy="433.4" r="4.15"/><circle cx="101.3" cy="439.7" r="4.15"/><circle cx="458.3" cy="439.7" r="4.15"/><circle cx="73.4" cy="446.0" r="4.15"/><circle cx="430.4" cy="446.0" r="4.15"/><circle cx="74.0" cy="453.4" r="4.15"/><circle cx="431.0" cy="453.4" r="4.15"/><circle cx="92.2" cy="444.3" r="4.15"/><circle cx="449.2" cy="444.3" r="4.15"/><circle cx="88.8" cy="451.1" r="4.15"/><circle cx="445.8" cy="451.1" r="4.15"/><circle cx="86.5" cy="455.7" r="4.15"/><circle cx="443.5" cy="455.7" r="4.15"/><circle cx="88.8" cy="459.1" r="4.15"/><circle cx="445.8" cy="459.1" r="4.15"/><circle cx="95.1" cy="446.5" r="4.15"/><circle cx="452.1" cy="446.5" r="4.15"/><circle cx="99.0" cy="450.0" r="4.15"/><circle cx="456.0" cy="450.0" r="4.15"/><circle cx="100.2" cy="458.0" r="4.15"/><circle cx="457.2" cy="458.0" r="4.15"/><circle cx="72.2" cy="476.2" r="4.15"/><circle cx="429.2" cy="476.2" r="4.15"/><circle cx="77.4" cy="471.1" r="4.15"/><circle cx="434.4" cy="471.1" r="4.15"/><circle cx="81.9" cy="476.2" r="4.15"/><circle cx="438.9" cy="476.2" r="4.15"/><circle cx="87.1" cy="467.6" r="4.15"/><circle cx="444.1" cy="467.6" r="4.15"/><circle cx="95.6" cy="465.9" r="4.15"/><circle cx="452.6" cy="465.9" r="4.15"/><circle cx="95.6" cy="470.5" r="4.15"/><circle cx="452.6" cy="470.5" r="4.15"/><circle cx="89.9" cy="480.2" r="4.15"/><circle cx="446.9" cy="480.2" r="4.15"/><circle cx="94.5" cy="479.6" r="4.15"/><circle cx="451.5" cy="479.6" r="4.15"/><circle cx="99.0" cy="478.5" r="4.15"/><circle cx="456.0" cy="478.5" r="4.15"/><circle cx="101.3" cy="484.2" r="4.15"/><circle cx="458.3" cy="484.2" r="4.15"/><circle cx="99.6" cy="492.2" r="4.15"/><circle cx="456.6" cy="492.2" r="4.15"/><circle cx="95.6" cy="499.0" r="4.15"/><circle cx="452.6" cy="499.0" r="4.15"/><circle cx="104.2" cy="504.7" r="4.15"/><circle cx="461.2" cy="504.7" r="4.15"/><circle cx="111.4" cy="431.9" r="4.15"/><circle cx="468.4" cy="431.9" r="4.15"/><circle cx="110.3" cy="438.8" r="4.15"/><circle cx="467.3" cy="438.8" r="4.15"/><circle cx="113.7" cy="443.9" r="4.15"/><circle cx="470.7" cy="443.9" r="4.15"/><circle cx="116.0" cy="449.0" r="4.15"/><circle cx="473.0" cy="449.0" r="4.15"/><circle cx="127.4" cy="448.5" r="4.15"/><circle cx="484.4" cy="448.5" r="4.15"/><circle cx="108.0" cy="455.9" r="4.15"/><circle cx="465.0" cy="455.9" r="4.15"/><circle cx="107.4" cy="462.7" r="4.15"/><circle cx="464.4" cy="462.7" r="4.15"/><circle cx="121.1" cy="460.4" r="4.15"/><circle cx="478.1" cy="460.4" r="4.15"/><circle cx="120.0" cy="465.6" r="4.15"/><circle cx="477.0" cy="465.6" r="4.15"/><circle cx="108.6" cy="471.3" r="4.15"/><circle cx="465.6" cy="471.3" r="4.15"/><circle cx="113.7" cy="477.0" r="4.15"/><circle cx="470.7" cy="477.0" r="4.15"/><circle cx="123.4" cy="475.8" r="4.15"/><circle cx="480.4" cy="475.8" r="4.15"/><circle cx="122.8" cy="479.8" r="4.15"/><circle cx="479.8" cy="479.8" r="4.15"/><circle cx="127.4" cy="481.0" r="4.15"/><circle cx="484.4" cy="481.0" r="4.15"/><circle cx="130.8" cy="471.8" r="4.15"/><circle cx="487.8" cy="471.8" r="4.15"/><circle cx="134.2" cy="472.4" r="4.15"/><circle cx="491.2" cy="472.4" r="4.15"/><circle cx="130.8" cy="479.8" r="4.15"/><circle cx="487.8" cy="479.8" r="4.15"/><circle cx="133.1" cy="484.4" r="4.15"/><circle cx="490.1" cy="484.4" r="4.15"/><circle cx="131.4" cy="490.1" r="4.15"/><circle cx="488.4" cy="490.1" r="4.15"/><circle cx="143.9" cy="481.0" r="4.15"/><circle cx="500.9" cy="481.0" r="4.15"/><circle cx="142.8" cy="487.8" r="4.15"/><circle cx="499.8" cy="487.8" r="4.15"/><circle cx="143.3" cy="496.4" r="4.15"/><circle cx="500.3" cy="496.4" r="4.15"/><circle cx="135.4" cy="495.8" r="4.15"/><circle cx="492.4" cy="495.8" r="4.15"/><circle cx="138.8" cy="503.2" r="4.15"/><circle cx="495.8" cy="503.2" r="4.15"/><circle cx="143.3" cy="504.3" r="4.15"/><circle cx="500.3" cy="504.3" r="4.15"/><circle cx="153.6" cy="491.8" r="4.15"/><circle cx="510.6" cy="491.8" r="4.15"/><circle cx="152.5" cy="503.2" r="4.15"/><circle cx="509.5" cy="503.2" r="4.15"/><circle cx="150.8" cy="509.5" r="4.15"/><circle cx="507.8" cy="509.5" r="4.15"/><circle cx="145.6" cy="514.0" r="4.15"/><circle cx="502.6" cy="514.0" r="4.15"/><circle cx="109.1" cy="490.1" r="4.15"/><circle cx="466.1" cy="490.1" r="4.15"/><circle cx="110.3" cy="493.5" r="4.15"/><circle cx="467.3" cy="493.5" r="4.15"/><circle cx="117.1" cy="491.2" r="4.15"/><circle cx="474.1" cy="491.2" r="4.15"/><circle cx="122.8" cy="492.9" r="4.15"/><circle cx="479.8" cy="492.9" r="4.15"/><circle cx="114.8" cy="500.4" r="4.15"/><circle cx="471.8" cy="500.4" r="4.15"/><circle cx="116.0" cy="502.6" r="4.15"/><circle cx="473.0" cy="502.6" r="4.15"/><circle cx="113.7" cy="519.7" r="4.15"/><circle cx="470.7" cy="519.7" r="4.15"/><circle cx="122.2" cy="520.9" r="4.15"/><circle cx="479.2" cy="520.9" r="4.15"/><circle cx="111.4" cy="528.3" r="4.15"/><circle cx="468.4" cy="528.3" r="4.15"/><circle cx="134.8" cy="522.6" r="4.15"/><circle cx="491.8" cy="522.6" r="4.15"/><circle cx="133.7" cy="527.7" r="4.15"/><circle cx="490.7" cy="527.7" r="4.15"/><circle cx="143.9" cy="523.2" r="4.15"/><circle cx="500.9" cy="523.2" r="4.15"/><circle cx="127.4" cy="542.6" r="4.15"/><circle cx="484.4" cy="542.6" r="4.15"/><circle cx="128.5" cy="546.0" r="4.15"/><circle cx="485.5" cy="546.0" r="4.15"/><circle cx="135.9" cy="544.8" r="4.15"/><circle cx="492.9" cy="544.8" r="4.15"/><circle cx="149.6" cy="542.6" r="4.15"/><circle cx="506.6" cy="542.6" r="4.15"/><circle cx="153.6" cy="533.4" r="4.15"/><circle cx="510.6" cy="533.4" r="4.15"/><circle cx="157.0" cy="532.3" r="4.15"/><circle cx="514.0" cy="532.3" r="4.15"/><circle cx="163.7" cy="498.7" r="4.15"/><circle cx="520.7" cy="498.7" r="4.15"/><circle cx="177.4" cy="494.7" r="4.15"/><circle cx="534.4" cy="494.7" r="4.15"/><circle cx="161.4" cy="507.9" r="4.15"/><circle cx="518.4" cy="507.9" r="4.15"/><circle cx="161.4" cy="516.4" r="4.15"/><circle cx="518.4" cy="516.4" r="4.15"/><circle cx="171.7" cy="524.4" r="4.15"/><circle cx="528.7" cy="524.4" r="4.15"/><circle cx="175.1" cy="530.7" r="4.15"/><circle cx="532.1" cy="530.7" r="4.15"/><circle cx="168.3" cy="531.2" r="4.15"/><circle cx="525.3" cy="531.2" r="4.15"/><circle cx="168.8" cy="536.9" r="4.15"/><circle cx="525.8" cy="536.9" r="4.15"/><circle cx="166.0" cy="542.1" r="4.15"/><circle cx="523.0" cy="542.1" r="4.15"/><circle cx="161.4" cy="547.2" r="4.15"/><circle cx="518.4" cy="547.2" r="4.15"/><circle cx="200.2" cy="523.3" r="4.15"/><circle cx="557.2" cy="523.3" r="4.15"/><circle cx="185.4" cy="538.1" r="4.15"/><circle cx="542.4" cy="538.1" r="4.15"/><circle cx="183.7" cy="541.5" r="4.15"/><circle cx="540.7" cy="541.5" r="4.15"/><circle cx="196.8" cy="538.6" r="4.15"/><circle cx="553.8" cy="538.6" r="4.15"/><circle cx="192.2" cy="543.2" r="4.15"/><circle cx="549.2" cy="543.2" r="4.15"/><circle cx="181.9" cy="550.0" r="4.15"/><circle cx="538.9" cy="550.0" r="4.15"/><circle cx="176.2" cy="555.2" r="4.15"/><circle cx="533.2" cy="555.2" r="4.15"/><circle cx="187.6" cy="555.2" r="4.15"/><circle cx="544.6" cy="555.2" r="4.15"/><circle cx="195.6" cy="552.9" r="4.15"/><circle cx="552.6" cy="552.9" r="4.15"/><circle cx="185.4" cy="558.6" r="4.15"/><circle cx="542.4" cy="558.6" r="4.15"/><circle cx="196.8" cy="559.7" r="4.15"/><circle cx="553.8" cy="559.7" r="4.15"/><circle cx="177.4" cy="562.6" r="4.15"/><circle cx="534.4" cy="562.6" r="4.15"/><circle cx="176.2" cy="567.2" r="4.15"/><circle cx="533.2" cy="567.2" r="4.15"/><circle cx="188.8" cy="565.4" r="4.15"/><circle cx="545.8" cy="565.4" r="4.15"/><circle cx="186.5" cy="568.9" r="4.15"/><circle cx="543.5" cy="568.9" r="4.15"/><circle cx="193.3" cy="567.7" r="4.15"/><circle cx="550.3" cy="567.7" r="4.15"/><circle cx="200.2" cy="567.7" r="4.15"/><circle cx="557.2" cy="567.7" r="4.15"/><circle cx="180.8" cy="573.4" r="4.15"/><circle cx="537.8" cy="573.4" r="4.15"/><circle cx="185.4" cy="575.1" r="4.15"/><circle cx="542.4" cy="575.1" r="4.15"/><circle cx="203.6" cy="573.4" r="4.15"/><circle cx="560.6" cy="573.4" r="4.15"/><circle cx="183.1" cy="592.8" r="4.15"/><circle cx="540.1" cy="592.8" r="4.15"/><circle cx="188.8" cy="591.7" r="4.15"/><circle cx="545.8" cy="591.7" r="4.15"/><circle cx="193.3" cy="594.0" r="4.15"/><circle cx="550.3" cy="594.0" r="4.15"/><circle cx="195.6" cy="598.5" r="4.15"/><circle cx="552.6" cy="598.5" r="4.15"/><circle cx="204.8" cy="597.4" r="4.15"/><circle cx="561.8" cy="597.4" r="4.15"/><circle cx="153.4" cy="551.2" r="4.15"/><circle cx="510.4" cy="551.2" r="4.15"/><circle cx="159.1" cy="552.3" r="4.15"/><circle cx="516.1" cy="552.3" r="4.15"/><circle cx="163.7" cy="557.5" r="4.15"/><circle cx="520.7" cy="557.5" r="4.15"/><circle cx="155.1" cy="559.2" r="4.15"/><circle cx="512.1" cy="559.2" r="4.15"/><circle cx="161.4" cy="565.4" r="4.15"/><circle cx="518.4" cy="565.4" r="4.15"/><circle cx="153.4" cy="564.9" r="4.15"/><circle cx="510.4" cy="564.9" r="4.15"/><circle cx="154.6" cy="575.7" r="4.15"/><circle cx="511.6" cy="575.7" r="4.15"/><circle cx="156.0" cy="603.7" r="4.15"/><circle cx="513.0" cy="603.7" r="4.15"/><circle cx="174.1" cy="603.7" r="4.15"/><circle cx="531.1" cy="603.7" r="4.15"/><circle cx="180.1" cy="604.4" r="4.15"/><circle cx="537.1" cy="604.4" r="4.15"/><circle cx="183.9" cy="609.7" r="4.15"/><circle cx="540.9" cy="609.7" r="4.15"/><circle cx="189.1" cy="616.5" r="4.15"/><circle cx="546.1" cy="616.5" r="4.15"/><circle cx="201.9" cy="605.2" r="4.15"/><circle cx="558.9" cy="605.2" r="4.15"/><circle cx="208.7" cy="607.4" r="4.15"/><circle cx="565.7" cy="607.4" r="4.15"/><circle cx="208.7" cy="615.0" r="4.15"/><circle cx="565.7" cy="615.0" r="4.15"/><circle cx="216.2" cy="608.9" r="4.15"/><circle cx="573.2" cy="608.9" r="4.15"/><circle cx="223.0" cy="616.5" r="4.15"/><circle cx="580.0" cy="616.5" r="4.15"/><circle cx="217.7" cy="621.7" r="4.15"/><circle cx="574.7" cy="621.7" r="4.15"/><circle cx="204.9" cy="627.0" r="4.15"/><circle cx="561.9" cy="627.0" r="4.15"/><circle cx="227.5" cy="604.4" r="4.15"/><circle cx="584.5" cy="604.4" r="4.15"/><circle cx="233.5" cy="624.0" r="4.15"/><circle cx="590.5" cy="624.0" r="4.15"/><circle cx="236.5" cy="636.8" r="4.15"/><circle cx="232.0" cy="645.1" r="4.15"/><circle cx="589.0" cy="645.1" r="4.15"/><circle cx="212.5" cy="568.3" r="4.15"/><circle cx="569.5" cy="568.3" r="4.15"/><circle cx="220.0" cy="572.8" r="4.15"/><circle cx="577.0" cy="572.8" r="4.15"/><circle cx="229.0" cy="575.1" r="4.15"/><circle cx="586.0" cy="575.1" r="4.15"/><circle cx="234.3" cy="575.8" r="4.15"/><circle cx="210.2" cy="582.6" r="4.15"/><circle cx="567.2" cy="582.6" r="4.15"/><circle cx="223.7" cy="584.8" r="4.15"/><circle cx="580.7" cy="584.8" r="4.15"/><circle cx="231.3" cy="587.1" r="4.15"/><circle cx="588.3" cy="587.1" r="4.15"/><circle cx="225.3" cy="591.6" r="4.15"/><circle cx="582.3" cy="591.6" r="4.15"/><circle cx="214.7" cy="595.4" r="4.15"/><circle cx="571.7" cy="595.4" r="4.15"/><circle cx="220.7" cy="596.1" r="4.15"/><circle cx="577.7" cy="596.1" r="4.15"/><circle cx="234.3" cy="595.4" r="4.15"/><circle cx="305.3" cy="509.0" r="4.15"/><circle cx="298.5" cy="513.5" r="4.15"/><circle cx="300.7" cy="521.1" r="4.15"/><circle cx="299.2" cy="525.6" r="4.15"/><circle cx="312.8" cy="521.8" r="4.15"/><circle cx="289.4" cy="530.9" r="4.15"/><circle cx="290.2" cy="538.4" r="4.15"/><circle cx="314.3" cy="543.7" r="4.15"/><circle cx="300.0" cy="554.2" r="4.15"/><circle cx="293.2" cy="560.2" r="4.15"/><circle cx="300.7" cy="564.0" r="4.15"/><circle cx="309.8" cy="560.2" r="4.15"/><circle cx="311.3" cy="567.7" r="4.15"/><circle cx="282.7" cy="563.2" r="4.15"/><circle cx="269.1" cy="567.7" r="4.15"/><circle cx="256.3" cy="569.2" r="4.15"/><circle cx="248.8" cy="570.7" r="4.15"/><circle cx="272.9" cy="579.8" r="4.15"/><circle cx="251.8" cy="577.5" r="4.15"/><circle cx="242.8" cy="580.5" r="4.15"/><circle cx="287.9" cy="575.3" r="4.15"/><circle cx="286.4" cy="579.8" r="4.15"/><circle cx="290.2" cy="578.3" r="4.15"/><circle cx="298.5" cy="580.5" r="4.15"/><circle cx="284.9" cy="585.8" r="4.15"/><circle cx="284.2" cy="591.8" r="4.15"/><circle cx="307.5" cy="589.6" r="4.15"/><circle cx="299.2" cy="591.8" r="4.15"/><circle cx="296.2" cy="596.3" r="4.15"/><circle cx="240.5" cy="588.8" r="4.15"/><circle cx="257.1" cy="585.8" r="4.15"/><circle cx="260.1" cy="590.3" r="4.15"/><circle cx="266.1" cy="590.3" r="4.15"/><circle cx="270.6" cy="593.3" r="4.15"/><circle cx="275.2" cy="597.8" r="4.15"/><circle cx="245.1" cy="596.3" r="4.15"/><circle cx="249.6" cy="599.3" r="4.15"/><circle cx="255.6" cy="597.8" r="4.15"/><circle cx="260.1" cy="599.3" r="4.15"/><circle cx="264.6" cy="602.4" r="4.15"/><circle cx="242.0" cy="605.4" r="4.15"/><circle cx="248.1" cy="605.4" r="4.15"/><circle cx="254.1" cy="605.4" r="4.15"/><circle cx="260.1" cy="605.4" r="4.15"/><circle cx="264.6" cy="608.4" r="4.15"/><circle cx="272.1" cy="608.4" r="4.15"/><circle cx="273.6" cy="614.4" r="4.15"/><circle cx="276.7" cy="617.4" r="4.15"/><circle cx="284.2" cy="611.4" r="4.15"/><circle cx="287.2" cy="606.9" r="4.15"/><circle cx="245.1" cy="612.9" r="4.15"/><circle cx="251.1" cy="614.4" r="4.15"/><circle cx="257.1" cy="612.9" r="4.15"/><circle cx="263.1" cy="614.4" r="4.15"/><circle cx="240.5" cy="620.4" r="4.15"/><circle cx="249.6" cy="618.9" r="4.15"/><circle cx="255.6" cy="621.9" r="4.15"/><circle cx="260.1" cy="620.4" r="4.15"/><circle cx="267.6" cy="626.4" r="4.15"/><circle cx="272.1" cy="623.4" r="4.15"/><circle cx="249.6" cy="628.7" r="4.15"/><circle cx="243.5" cy="633.2" r="4.15"/><circle cx="257.8" cy="634.0" r="4.15"/><circle cx="293.2" cy="631.7" r="4.15"/><circle cx="287.2" cy="640.7" r="4.15"/><circle cx="262.4" cy="646.0" r="4.15"/><circle cx="326.9" cy="428.4" r="4.15"/><circle cx="336.8" cy="431.7" r="4.15"/><circle cx="338.0" cy="438.7" r="4.15"/><circle cx="343.8" cy="441.1" r="4.15"/><circle cx="355.6" cy="436.4" r="4.15"/><circle cx="356.7" cy="442.2" r="4.15"/><circle cx="311.1" cy="439.3" r="4.15"/><circle cx="353.2" cy="448.7" r="4.15"/><circle cx="331.0" cy="454.5" r="4.15"/><circle cx="349.7" cy="457.5" r="4.15"/><circle cx="355.6" cy="459.8" r="4.15"/><circle cx="336.8" cy="466.2" r="4.15"/><circle cx="343.8" cy="470.3" r="4.15"/><circle cx="341.5" cy="477.4" r="4.15"/><circle cx="328.6" cy="479.1" r="4.15"/><circle cx="333.3" cy="476.8" r="4.15"/><circle cx="301.7" cy="480.9" r="4.15"/><circle cx="308.7" cy="483.8" r="4.15"/><circle cx="314.6" cy="481.4" r="4.15"/><circle cx="298.8" cy="489.6" r="4.15"/><circle cx="307.6" cy="492.6" r="4.15"/><circle cx="306.4" cy="500.2" r="4.15"/><circle cx="321.0" cy="489.1" r="4.15"/><circle cx="326.3" cy="489.1" r="4.15"/><circle cx="335.7" cy="488.5" r="4.15"/><circle cx="318.1" cy="498.4" r="4.15"/><circle cx="348.5" cy="496.7" r="4.15"/><circle cx="339.2" cy="501.9" r="4.15"/><circle cx="323.9" cy="504.9" r="4.15"/><circle cx="348.5" cy="506.6" r="4.15"/><circle cx="329.8" cy="516.0" r="4.15"/><circle cx="339.2" cy="540.6" r="4.15"/><circle cx="319.3" cy="530.6" r="4.15"/><circle cx="321.0" cy="535.9" r="4.15"/><circle cx="325.1" cy="542.9" r="4.15"/><circle cx="323.9" cy="547.0" r="4.15"/><circle cx="333.3" cy="560.5" r="4.15"/><circle cx="379.7" cy="384.8" r="4.15"/><circle cx="397.0" cy="387.8" r="4.15"/><circle cx="340.5" cy="396.8" r="4.15"/><circle cx="345.8" cy="401.3" r="4.15"/><circle cx="372.9" cy="393.8" r="4.15"/><circle cx="378.9" cy="401.3" r="4.15"/><circle cx="389.4" cy="391.6" r="4.15"/><circle cx="387.2" cy="395.3" r="4.15"/><circle cx="393.2" cy="397.6" r="4.15"/><circle cx="402.2" cy="394.6" r="4.15"/><circle cx="405.3" cy="397.6" r="4.15"/><circle cx="399.2" cy="400.6" r="4.15"/><circle cx="409.8" cy="400.6" r="4.15"/><circle cx="414.3" cy="403.6" r="4.15"/><circle cx="391.7" cy="405.1" r="4.15"/><circle cx="396.2" cy="408.1" r="4.15"/><circle cx="402.2" cy="406.6" r="4.15"/><circle cx="406.8" cy="409.6" r="4.15"/><circle cx="376.7" cy="409.6" r="4.15"/><circle cx="370.6" cy="414.1" r="4.15"/><circle cx="366.1" cy="418.6" r="4.15"/><circle cx="351.1" cy="412.6" r="4.15"/><circle cx="355.6" cy="412.6" r="4.15"/><circle cx="348.1" cy="417.1" r="4.15"/><circle cx="379.7" cy="415.6" r="4.15"/><circle cx="384.2" cy="417.1" r="4.15"/><circle cx="390.2" cy="414.1" r="4.15"/><circle cx="394.7" cy="414.1" r="4.15"/><circle cx="400.7" cy="417.1" r="4.15"/><circle cx="411.3" cy="414.1" r="4.15"/><circle cx="364.6" cy="421.6" r="4.15"/><circle cx="366.1" cy="429.2" r="4.15"/><circle cx="372.1" cy="423.1" r="4.15"/><circle cx="375.2" cy="427.7" r="4.15"/><circle cx="378.2" cy="430.7" r="4.15"/><circle cx="382.7" cy="432.2" r="4.15"/><circle cx="385.7" cy="427.7" r="4.15"/><circle cx="387.2" cy="423.1" r="4.15"/><circle cx="382.7" cy="421.6" r="4.15"/><circle cx="394.7" cy="429.2" r="4.15"/><circle cx="399.2" cy="430.7" r="4.15"/><circle cx="400.7" cy="435.2" r="4.15"/><circle cx="411.3" cy="424.7" r="4.15"/><circle cx="408.3" cy="421.6" r="4.15"/><circle cx="360.1" cy="438.2" r="4.15"/><circle cx="366.1" cy="445.0" r="4.15"/><circle cx="383.4" cy="448.7" r="4.15"/><circle cx="398.5" cy="445.0" r="4.15"/><circle cx="398.5" cy="461.5" r="4.15"/><circle cx="370.6" cy="418.6" r="4.15"/><circle cx="376.7" cy="421.6" r="4.15"/><circle cx="369.1" cy="426.2" r="4.15"/><circle cx="105.2" cy="464.7" r="4.15"/><circle cx="462.2" cy="464.7" r="4.15"/><circle cx="105.5" cy="474.8" r="4.15"/><circle cx="462.5" cy="474.8" r="4.15"/><circle cx="142.9" cy="557.3" r="4.15"/><circle cx="499.9" cy="557.3" r="4.15"/><circle cx="148.4" cy="553.6" r="4.15"/><circle cx="505.4" cy="553.6" r="4.15"/><circle cx="150.2" cy="561.0" r="4.15"/><circle cx="507.2" cy="561.0" r="4.15"/><circle cx="157.6" cy="555.4" r="4.15"/><circle cx="514.6" cy="555.4" r="4.15"/><circle cx="157.6" cy="562.8" r="4.15"/><circle cx="514.6" cy="562.8" r="4.15"/><circle cx="148.4" cy="563.7" r="4.15"/><circle cx="505.4" cy="563.7" r="4.15"/><circle cx="136.4" cy="578.4" r="4.15"/><circle cx="493.4" cy="578.4" r="4.15"/><circle cx="220.1" cy="543.5" r="4.15"/><circle cx="577.1" cy="543.5" r="4.15"/><circle cx="398.9" cy="499.4" r="4.15"/><circle cx="230.0" cy="601.5" r="4.15"/><circle cx="587.0" cy="601.5" r="4.15"/><circle cx="228.5" cy="607.0" r="4.15"/><circle cx="585.5" cy="607.0" r="4.15"/></g>
<rect x="55.3" y="728.2" width="535.5" height="281.0" fill="none" stroke="#262626" stroke-width="3.2"/>
<path d="M55.3 763.3h7M590.8 763.3h-7M55.3 798.4h7M590.8 798.4h-7M55.3 833.6h7M590.8 833.6h-7M55.3 868.7h7M590.8 868.7h-7M55.3 903.8h7M590.8 903.8h-7M55.3 938.9h7M590.8 938.9h-7M55.3 974.1h7M590.8 974.1h-7M233.8 728.2v7M233.8 1009.2v-7M412.3 728.2v7M412.3 1009.2v-7" stroke="#262626" stroke-width="3.2" fill="none"/>
<text transform="translate(47.3,735.0) scale(0.93,1)" font-size="18.3" text-anchor="end">8.6</text>
<text transform="translate(47.3,770.1) scale(0.93,1)" font-size="18.3" text-anchor="end">8.7</text>
<text transform="translate(47.3,805.2) scale(0.93,1)" font-size="18.3" text-anchor="end">8.8</text>
<text transform="translate(47.3,840.4) scale(0.93,1)" font-size="18.3" text-anchor="end">8.9</text>
<text transform="translate(51.0,875.5) scale(0.93,1)" font-size="18.3" text-anchor="end">9</text>
<text transform="translate(47.3,910.6) scale(0.93,1)" font-size="18.3" text-anchor="end">9.1</text>
<text transform="translate(47.3,945.7) scale(0.93,1)" font-size="18.3" text-anchor="end">9.2</text>
<text transform="translate(47.3,980.9) scale(0.93,1)" font-size="18.3" text-anchor="end">9.3</text>
<text transform="translate(47.3,1016.0) scale(0.93,1)" font-size="18.3" text-anchor="end">9.4</text>
<text transform="translate(54.5,1028.4) scale(0.9,1)" font-size="18.5" text-anchor="middle">0</text>
<text transform="translate(231.3,1028.4) scale(0.9,1)" font-size="18.5" text-anchor="middle">0.5</text>
<text transform="translate(411.5,1028.4) scale(0.9,1)" font-size="18.5" text-anchor="middle">1</text>
<text transform="translate(588.3,1028.4) scale(0.9,1)" font-size="18.5" text-anchor="middle">1.5</text>
<text x="323.0" y="1046.5" font-size="17" text-anchor="middle">Phase</text>
<text x="321.5" y="721.9" font-size="18.3" text-anchor="middle">AS190212 V Magnitude</text>
<text transform="translate(21.0,871.9) rotate(-90) scale(0.915,1)" font-size="18" text-anchor="middle">V Magnitude</text>
<g fill="#0404f4" clip-path="url(#clipR)"><circle cx="64.1" cy="814.8" r="4.15"/><circle cx="421.1" cy="814.8" r="4.15"/><circle cx="90.6" cy="836.1" r="4.15"/><circle cx="447.6" cy="836.1" r="4.15"/><circle cx="56.2" cy="758.1" r="4.15"/><circle cx="413.2" cy="758.1" r="4.15"/><circle cx="56.5" cy="751.0" r="4.15"/><circle cx="413.5" cy="751.0" r="4.15"/><circle cx="60.5" cy="750.0" r="4.15"/><circle cx="417.5" cy="750.0" r="4.15"/><circle cx="64.6" cy="754.1" r="4.15"/><circle cx="421.6" cy="754.1" r="4.15"/><circle cx="68.1" cy="760.1" r="4.15"/><circle cx="425.1" cy="760.1" r="4.15"/><circle cx="73.6" cy="762.6" r="4.15"/><circle cx="430.6" cy="762.6" r="4.15"/><circle cx="81.1" cy="767.1" r="4.15"/><circle cx="438.1" cy="767.1" r="4.15"/><circle cx="85.1" cy="772.1" r="4.15"/><circle cx="442.1" cy="772.1" r="4.15"/><circle cx="90.1" cy="775.6" r="4.15"/><circle cx="447.1" cy="775.6" r="4.15"/><circle cx="90.1" cy="783.2" r="4.15"/><circle cx="447.1" cy="783.2" r="4.15"/><circle cx="98.2" cy="789.2" r="4.15"/><circle cx="455.2" cy="789.2" r="4.15"/><circle cx="100.7" cy="797.2" r="4.15"/><circle cx="457.7" cy="797.2" r="4.15"/><circle cx="108.0" cy="805.2" r="4.15"/><circle cx="465.0" cy="805.2" r="4.15"/><circle cx="56.2" cy="768.1" r="4.15"/><circle cx="413.2" cy="768.1" r="4.15"/><circle cx="57.5" cy="771.1" r="4.15"/><circle cx="414.5" cy="771.1" r="4.15"/><circle cx="61.0" cy="775.1" r="4.15"/><circle cx="418.0" cy="775.1" r="4.15"/><circle cx="66.1" cy="780.1" r="4.15"/><circle cx="423.1" cy="780.1" r="4.15"/><circle cx="74.1" cy="783.2" r="4.15"/><circle cx="431.1" cy="783.2" r="4.15"/><circle cx="77.1" cy="796.2" r="4.15"/><circle cx="434.1" cy="796.2" r="4.15"/><circle cx="81.1" cy="801.2" r="4.15"/><circle cx="438.1" cy="801.2" r="4.15"/><circle cx="90.1" cy="805.2" r="4.15"/><circle cx="447.1" cy="805.2" r="4.15"/><circle cx="95.2" cy="815.3" r="4.15"/><circle cx="452.2" cy="815.3" r="4.15"/><circle cx="99.2" cy="819.3" r="4.15"/><circle cx="456.2" cy="819.3" r="4.15"/><circle cx="104.2" cy="828.3" r="4.15"/><circle cx="461.2" cy="828.3" r="4.15"/><circle cx="108.0" cy="834.3" r="4.15"/><circle cx="465.0" cy="834.3" r="4.15"/><circle cx="100.0" cy="802.0" r="4.15"/><circle cx="457.0" cy="802.0" r="4.15"/><circle cx="110.0" cy="807.1" r="4.15"/><circle cx="467.0" cy="807.1" r="4.15"/><circle cx="119.1" cy="810.1" r="4.15"/><circle cx="476.1" cy="810.1" r="4.15"/><circle cx="117.6" cy="816.6" r="4.15"/><circle cx="474.6" cy="816.6" r="4.15"/><circle cx="121.1" cy="824.1" r="4.15"/><circle cx="478.1" cy="824.1" r="4.15"/><circle cx="128.1" cy="827.1" r="4.15"/><circle cx="485.1" cy="827.1" r="4.15"/><circle cx="133.1" cy="837.2" r="4.15"/><circle cx="490.1" cy="837.2" r="4.15"/><circle cx="142.1" cy="841.7" r="4.15"/><circle cx="499.1" cy="841.7" r="4.15"/><circle cx="146.2" cy="849.2" r="4.15"/><circle cx="503.2" cy="849.2" r="4.15"/><circle cx="153.2" cy="856.2" r="4.15"/><circle cx="510.2" cy="856.2" r="4.15"/><circle cx="160.0" cy="855.2" r="4.15"/><circle cx="517.0" cy="855.2" r="4.15"/><circle cx="160.0" cy="862.3" r="4.15"/><circle cx="517.0" cy="862.3" r="4.15"/><circle cx="100.0" cy="820.1" r="4.15"/><circle cx="457.0" cy="820.1" r="4.15"/><circle cx="106.0" cy="828.1" r="4.15"/><circle cx="463.0" cy="828.1" r="4.15"/><circle cx="108.0" cy="833.2" r="4.15"/><circle cx="465.0" cy="833.2" r="4.15"/><circle cx="114.0" cy="842.2" r="4.15"/><circle cx="471.0" cy="842.2" r="4.15"/><circle cx="121.1" cy="849.2" r="4.15"/><circle cx="478.1" cy="849.2" r="4.15"/><circle cx="129.1" cy="854.2" r="4.15"/><circle cx="486.1" cy="854.2" r="4.15"/><circle cx="132.1" cy="862.3" r="4.15"/><circle cx="489.1" cy="862.3" r="4.15"/><circle cx="134.1" cy="867.3" r="4.15"/><circle cx="491.1" cy="867.3" r="4.15"/><circle cx="142.1" cy="872.3" r="4.15"/><circle cx="499.1" cy="872.3" r="4.15"/><circle cx="149.2" cy="880.3" r="4.15"/><circle cx="506.2" cy="880.3" r="4.15"/><circle cx="156.2" cy="887.4" r="4.15"/><circle cx="513.2" cy="887.4" r="4.15"/><circle cx="160.0" cy="890.4" r="4.15"/><circle cx="517.0" cy="890.4" r="4.15"/><circle cx="160.5" cy="856.1" r="4.15"/><circle cx="517.5" cy="856.1" r="4.15"/><circle cx="151.0" cy="902.7" r="4.15"/><circle cx="508.0" cy="902.7" r="4.15"/><circle cx="183.6" cy="919.3" r="4.15"/><circle cx="540.6" cy="919.3" r="4.15"/><circle cx="150.0" cy="854.1" r="4.15"/><circle cx="507.0" cy="854.1" r="4.15"/><circle cx="156.0" cy="860.1" r="4.15"/><circle cx="513.0" cy="860.1" r="4.15"/><circle cx="164.0" cy="870.1" r="4.15"/><circle cx="521.0" cy="870.1" r="4.15"/><circle cx="175.1" cy="883.2" r="4.15"/><circle cx="532.1" cy="883.2" r="4.15"/><circle cx="187.1" cy="889.2" r="4.15"/><circle cx="544.1" cy="889.2" r="4.15"/><circle cx="195.2" cy="901.2" r="4.15"/><circle cx="552.2" cy="901.2" r="4.15"/><circle cx="201.2" cy="904.2" r="4.15"/><circle cx="558.2" cy="904.2" r="4.15"/><circle cx="210.0" cy="909.3" r="4.15"/><circle cx="567.0" cy="909.3" r="4.15"/><circle cx="150.0" cy="880.1" r="4.15"/><circle cx="507.0" cy="880.1" r="4.15"/><circle cx="157.0" cy="888.2" r="4.15"/><circle cx="514.0" cy="888.2" r="4.15"/><circle cx="165.1" cy="899.2" r="4.15"/><circle cx="522.1" cy="899.2" r="4.15"/><circle cx="172.1" cy="901.2" r="4.15"/><circle cx="529.1" cy="901.2" r="4.15"/><circle cx="180.1" cy="906.2" r="4.15"/><circle cx="537.1" cy="906.2" r="4.15"/><circle cx="189.1" cy="914.3" r="4.15"/><circle cx="546.1" cy="914.3" r="4.15"/><circle cx="193.1" cy="919.3" r="4.15"/><circle cx="550.1" cy="919.3" r="4.15"/><circle cx="200.2" cy="925.3" r="4.15"/><circle cx="557.2" cy="925.3" r="4.15"/><circle cx="206.2" cy="933.3" r="4.15"/><circle cx="563.2" cy="933.3" r="4.15"/><circle cx="210.0" cy="934.3" r="4.15"/><circle cx="567.0" cy="934.3" r="4.15"/><circle cx="200.0" cy="904.1" r="4.15"/><circle cx="557.0" cy="904.1" r="4.15"/><circle cx="212.0" cy="909.1" r="4.15"/><circle cx="569.0" cy="909.1" r="4.15"/><circle cx="220.1" cy="913.1" r="4.15"/><circle cx="577.1" cy="913.1" r="4.15"/><circle cx="231.1" cy="916.6" r="4.15"/><circle cx="588.1" cy="916.6" r="4.15"/><circle cx="238.1" cy="927.2" r="4.15"/><circle cx="246.2" cy="932.2" r="4.15"/><circle cx="254.2" cy="941.2" r="4.15"/><circle cx="260.0" cy="943.2" r="4.15"/><circle cx="200.0" cy="926.2" r="4.15"/><circle cx="557.0" cy="926.2" r="4.15"/><circle cx="206.5" cy="932.2" r="4.15"/><circle cx="563.5" cy="932.2" r="4.15"/><circle cx="213.0" cy="928.2" r="4.15"/><circle cx="570.0" cy="928.2" r="4.15"/><circle cx="220.1" cy="940.2" r="4.15"/><circle cx="577.1" cy="940.2" r="4.15"/><circle cx="226.1" cy="945.2" r="4.15"/><circle cx="583.1" cy="945.2" r="4.15"/><circle cx="235.6" cy="955.8" r="4.15"/><circle cx="242.1" cy="953.3" r="4.15"/><circle cx="249.2" cy="957.3" r="4.15"/><circle cx="256.2" cy="956.3" r="4.15"/><circle cx="260.0" cy="961.3" r="4.15"/><circle cx="261.1" cy="937.6" r="4.15"/><circle cx="276.9" cy="978.5" r="4.15"/><circle cx="283.9" cy="982.0" r="4.15"/><circle cx="250.0" cy="940.5" r="4.15"/><circle cx="261.1" cy="943.4" r="4.15"/><circle cx="268.7" cy="945.2" r="4.15"/><circle cx="278.1" cy="944.6" r="4.15"/><circle cx="285.1" cy="942.2" r="4.15"/><circle cx="293.3" cy="937.6" r="4.15"/><circle cx="297.4" cy="931.7" r="4.15"/><circle cx="303.8" cy="928.2" r="4.15"/><circle cx="309.7" cy="922.3" r="4.15"/><circle cx="315.6" cy="918.8" r="4.15"/><circle cx="250.0" cy="957.5" r="4.15"/><circle cx="260.5" cy="962.1" r="4.15"/><circle cx="268.7" cy="968.6" r="4.15"/><circle cx="276.9" cy="963.3" r="4.15"/><circle cx="287.5" cy="963.9" r="4.15"/><circle cx="296.8" cy="965.1" r="4.15"/><circle cx="300.3" cy="957.5" r="4.15"/><circle cx="305.0" cy="951.6" r="4.15"/><circle cx="312.0" cy="945.7" r="4.15"/><circle cx="320.0" cy="941.1" r="4.15"/><circle cx="320.0" cy="918.8" r="4.15"/><circle cx="300.0" cy="960.3" r="4.15"/><circle cx="303.0" cy="930.2" r="4.15"/><circle cx="309.0" cy="922.2" r="4.15"/><circle cx="313.0" cy="914.1" r="4.15"/><circle cx="319.1" cy="907.1" r="4.15"/><circle cx="325.1" cy="900.1" r="4.15"/><circle cx="326.6" cy="892.0" r="4.15"/><circle cx="329.1" cy="886.0" r="4.15"/><circle cx="331.1" cy="880.0" r="4.15"/><circle cx="300.5" cy="965.3" r="4.15"/><circle cx="308.0" cy="949.3" r="4.15"/><circle cx="315.1" cy="945.2" r="4.15"/><circle cx="320.1" cy="939.2" r="4.15"/><circle cx="326.6" cy="929.7" r="4.15"/><circle cx="324.1" cy="923.2" r="4.15"/><circle cx="330.1" cy="916.1" r="4.15"/><circle cx="338.1" cy="906.1" r="4.15"/><circle cx="340.1" cy="899.1" r="4.15"/><circle cx="341.1" cy="890.0" r="4.15"/><circle cx="343.1" cy="888.0" r="4.15"/><circle cx="345.2" cy="880.0" r="4.15"/><circle cx="352.1" cy="794.0" r="4.15"/><circle cx="360.1" cy="793.0" r="4.15"/><circle cx="364.1" cy="792.0" r="4.15"/><circle cx="370.1" cy="793.0" r="4.15"/><circle cx="361.1" cy="798.0" r="4.15"/><circle cx="366.1" cy="801.0" r="4.15"/><circle cx="354.6" cy="805.1" r="4.15"/><circle cx="358.1" cy="799.0" r="4.15"/><circle cx="364.6" cy="814.6" r="4.15"/><circle cx="347.1" cy="825.1" r="4.15"/><circle cx="352.1" cy="823.1" r="4.15"/><circle cx="357.1" cy="823.1" r="4.15"/><circle cx="359.1" cy="827.1" r="4.15"/><circle cx="345.1" cy="831.1" r="4.15"/><circle cx="350.1" cy="830.1" r="4.15"/><circle cx="355.1" cy="830.1" r="4.15"/><circle cx="368.1" cy="833.7" r="4.15"/><circle cx="344.0" cy="842.7" r="4.15"/><circle cx="350.1" cy="839.2" r="4.15"/><circle cx="355.1" cy="844.2" r="4.15"/><circle cx="343.0" cy="856.2" r="4.15"/><circle cx="348.1" cy="854.2" r="4.15"/><circle cx="352.1" cy="860.3" r="4.15"/><circle cx="350.1" cy="850.2" r="4.15"/><circle cx="361.6" cy="860.8" r="4.15"/><circle cx="341.0" cy="865.3" r="4.15"/><circle cx="340.0" cy="868.3" r="4.15"/><circle cx="350.1" cy="874.3" r="4.15"/><circle cx="345.1" cy="873.3" r="4.15"/><circle cx="342.0" cy="877.3" r="4.15"/><circle cx="332.0" cy="877.3" r="4.15"/><circle cx="336.0" cy="880.3" r="4.15"/><circle cx="390.0" cy="870.3" r="4.15"/><circle cx="384.1" cy="747.8" r="4.15"/><circle cx="393.5" cy="748.4" r="4.15"/><circle cx="397.5" cy="749.1" r="4.15"/><circle cx="370.8" cy="757.1" r="4.15"/><circle cx="404.2" cy="752.4" r="4.15"/><circle cx="410.9" cy="751.1" r="4.15"/><circle cx="381.5" cy="779.2" r="4.15"/><circle cx="376.1" cy="784.6" r="4.15"/><circle cx="390.8" cy="784.6" r="4.15"/><circle cx="365.4" cy="767.2" r="4.15"/><circle cx="367.4" cy="757.8" r="4.15"/><circle cx="372.1" cy="755.8" r="4.15"/><circle cx="384.1" cy="747.8" r="4.15"/><circle cx="394.8" cy="748.4" r="4.15"/><circle cx="404.2" cy="751.1" r="4.15"/><circle cx="410.9" cy="750.4" r="4.15"/><circle cx="364.1" cy="773.9" r="4.15"/><circle cx="372.1" cy="779.2" r="4.15"/><circle cx="384.1" cy="773.9" r="4.15"/><circle cx="396.2" cy="776.5" r="4.15"/><circle cx="405.6" cy="775.2" r="4.15"/><circle cx="410.9" cy="773.9" r="4.15"/><circle cx="131.9" cy="947.9" r="4.15"/><circle cx="488.9" cy="947.9" r="4.15"/><circle cx="162.3" cy="965.4" r="4.15"/><circle cx="519.3" cy="965.4" r="4.15"/><circle cx="407.0" cy="875.4" r="4.15"/><circle cx="353.4" cy="850.3" r="4.15"/><circle cx="345.1" cy="853.6" r="4.15"/><circle cx="365.2" cy="775.0" r="4.15"/><circle cx="370.2" cy="778.4" r="4.15"/><circle cx="231.7" cy="917.3" r="4.15"/><circle cx="588.7" cy="917.3" r="4.15"/><circle cx="233.6" cy="929.7" r="4.15"/><circle cx="590.6" cy="929.7" r="4.15"/><circle cx="232.7" cy="938.0" r="4.15"/><circle cx="589.7" cy="938.0" r="4.15"/><circle cx="227.6" cy="942.1" r="4.15"/><circle cx="584.6" cy="942.1" r="4.15"/><polygon points="56.2,758.1 56.5,751.0 60.5,750.0 64.6,754.1 68.1,760.1 73.6,762.6 81.1,767.1 85.1,772.1 90.1,775.6 90.1,783.2 98.2,789.2 100.7,797.2 108.0,805.2 108.0,834.3 104.2,828.3 99.2,819.3 95.2,815.3 90.1,805.2 81.1,801.2 77.1,796.2 74.1,783.2 66.1,780.1 61.0,775.1 57.5,771.1 56.2,768.1"/><polygon points="100.0,802.0 110.0,807.1 119.1,810.1 117.6,816.6 121.1,824.1 128.1,827.1 133.1,837.2 142.1,841.7 146.2,849.2 153.2,856.2 160.0,855.2 160.0,862.3 160.0,890.4 156.2,887.4 149.2,880.3 142.1,872.3 134.1,867.3 132.1,862.3 129.1,854.2 121.1,849.2 114.0,842.2 108.0,833.2 106.0,828.1 100.0,820.1"/><polygon points="150.0,854.1 156.0,860.1 164.0,870.1 175.1,883.2 187.1,889.2 195.2,901.2 201.2,904.2 210.0,909.3 210.0,934.3 206.2,933.3 200.2,925.3 193.1,919.3 189.1,914.3 180.1,906.2 172.1,901.2 165.1,899.2 157.0,888.2 150.0,880.1"/><polygon points="200.0,904.1 212.0,909.1 220.1,913.1 231.1,916.6 238.1,927.2 246.2,932.2 254.2,941.2 260.0,943.2 260.0,961.3 256.2,956.3 249.2,957.3 242.1,953.3 235.6,955.8 226.1,945.2 220.1,940.2 213.0,928.2 206.5,932.2 200.0,926.2"/><polygon points="250.0,940.5 261.1,943.4 268.7,945.2 278.1,944.6 285.1,942.2 293.3,937.6 297.4,931.7 303.8,928.2 309.7,922.3 315.6,918.8 320.0,918.8 320.0,941.1 312.0,945.7 305.0,951.6 300.3,957.5 296.8,965.1 287.5,963.9 276.9,963.3 268.7,968.6 260.5,962.1 250.0,957.5"/><polygon points="300.0,960.3 303.0,930.2 309.0,922.2 313.0,914.1 319.1,907.1 325.1,900.1 326.6,892.0 329.1,886.0 331.1,880.0 345.2,880.0 343.1,888.0 341.1,890.0 340.1,899.1 338.1,906.1 330.1,916.1 324.1,923.2 326.6,929.7 320.1,939.2 315.1,945.2 308.0,949.3 300.5,965.3"/><polygon points="365.4,767.2 367.4,757.8 372.1,755.8 384.1,747.8 394.8,748.4 404.2,751.1 410.9,750.4 410.9,773.9 405.6,775.2 396.2,776.5 384.1,773.9 372.1,779.2 364.1,773.9"/></g><g fill="#0404f4" clip-path="url(#clipD)"><polygon points="413.2,758.1 413.5,751.0 417.5,750.0 421.6,754.1 425.1,760.1 430.6,762.6 438.1,767.1 442.1,772.1 447.1,775.6 447.1,783.2 455.2,789.2 457.7,797.2 465.0,805.2 465.0,834.3 461.2,828.3 456.2,819.3 452.2,815.3 447.1,805.2 438.1,801.2 434.1,796.2 431.1,783.2 423.1,780.1 418.0,775.1 414.5,771.1 413.2,768.1"/><polygon points="457.0,802.0 467.0,807.1 476.1,810.1 474.6,816.6 478.1,824.1 485.1,827.1 490.1,837.2 499.1,841.7 503.2,849.2 510.2,856.2 517.0,855.2 517.0,862.3 517.0,890.4 513.2,887.4 506.2,880.3 499.1,872.3 491.1,867.3 489.1,862.3 486.1,854.2 478.1,849.2 471.0,842.2 465.0,833.2 463.0,828.1 457.0,820.1"/><polygon points="507.0,854.1 513.0,860.1 521.0,870.1 532.1,883.2 544.1,889.2 552.2,901.2 558.2,904.2 567.0,909.3 567.0,934.3 563.2,933.3 557.2,925.3 550.1,919.3 546.1,914.3 537.1,906.2 529.1,901.2 522.1,899.2 514.0,888.2 507.0,880.1"/><polygon points="557.0,904.1 569.0,909.1 577.1,913.1 588.1,916.6 595.1,927.2 603.2,932.2 611.2,941.2 617.0,943.2 617.0,961.3 613.2,956.3 606.2,957.3 599.1,953.3 592.6,955.8 583.1,945.2 577.1,940.2 570.0,928.2 563.5,932.2 557.0,926.2"/></g>
<rect x="55.3" y="1082.3000000000002" width="535.5" height="281.0" fill="none" stroke="#262626" stroke-width="3.2"/>
<path d="M55.3 1117.4h7M590.8 1117.4h-7M55.3 1152.5h7M590.8 1152.5h-7M55.3 1187.7h7M590.8 1187.7h-7M55.3 1222.8h7M590.8 1222.8h-7M55.3 1257.9h7M590.8 1257.9h-7M55.3 1293.1h7M590.8 1293.1h-7M55.3 1328.2h7M590.8 1328.2h-7M233.8 1082.3000000000002v7M233.8 1363.3000000000002v-7M412.3 1082.3000000000002v7M412.3 1363.3000000000002v-7" stroke="#262626" stroke-width="3.2" fill="none"/>
<text transform="translate(47.3,1089.1) scale(0.93,1)" font-size="18.3" text-anchor="end">10.9</text>
<text transform="translate(51.0,1124.2) scale(0.93,1)" font-size="18.3" text-anchor="end">11</text>
<text transform="translate(47.3,1159.3) scale(0.93,1)" font-size="18.3" text-anchor="end">11.1</text>
<text transform="translate(47.3,1194.5) scale(0.93,1)" font-size="18.3" text-anchor="end">11.2</text>
<text transform="translate(47.3,1229.6) scale(0.93,1)" font-size="18.3" text-anchor="end">11.3</text>
<text transform="translate(47.3,1264.7) scale(0.93,1)" font-size="18.3" text-anchor="end">11.4</text>
<text transform="translate(47.3,1299.9) scale(0.93,1)" font-size="18.3" text-anchor="end">11.5</text>
<text transform="translate(47.3,1335.0) scale(0.93,1)" font-size="18.3" text-anchor="end">11.6</text>
<text transform="translate(47.3,1370.1) scale(0.93,1)" font-size="18.3" text-anchor="end">11.7</text>
<text transform="translate(54.5,1382.5) scale(0.9,1)" font-size="18.5" text-anchor="middle">0</text>
<text transform="translate(231.3,1382.5) scale(0.9,1)" font-size="18.5" text-anchor="middle">0.5</text>
<text transform="translate(411.5,1382.5) scale(0.9,1)" font-size="18.5" text-anchor="middle">1</text>
<text transform="translate(588.3,1382.5) scale(0.9,1)" font-size="18.5" text-anchor="middle">1.5</text>
<text x="323.0" y="1400.6" font-size="17" text-anchor="middle">Phase</text>
<text x="321.5" y="1076.0" font-size="18.3" text-anchor="middle">AS211933 V Magnitude</text>
<text transform="translate(13.2,1226.0) rotate(-90) scale(0.915,1)" font-size="18" text-anchor="middle">V Magnitude</text>
<g fill="#0404f4" clip-path="url(#clipR)"><circle cx="59.0" cy="1117.1" r="4.15"/><circle cx="416.0" cy="1117.1" r="4.15"/><circle cx="77.6" cy="1121.1" r="4.15"/><circle cx="434.6" cy="1121.1" r="4.15"/><circle cx="64.1" cy="1125.1" r="4.15"/><circle cx="421.1" cy="1125.1" r="4.15"/><circle cx="69.1" cy="1127.7" r="4.15"/><circle cx="426.1" cy="1127.7" r="4.15"/><circle cx="82.6" cy="1130.7" r="4.15"/><circle cx="439.6" cy="1130.7" r="4.15"/><circle cx="91.6" cy="1127.2" r="4.15"/><circle cx="448.6" cy="1127.2" r="4.15"/><circle cx="58.0" cy="1132.2" r="4.15"/><circle cx="415.0" cy="1132.2" r="4.15"/><circle cx="63.1" cy="1133.2" r="4.15"/><circle cx="420.1" cy="1133.2" r="4.15"/><circle cx="61.0" cy="1138.2" r="4.15"/><circle cx="418.0" cy="1138.2" r="4.15"/><circle cx="56.0" cy="1141.2" r="4.15"/><circle cx="413.0" cy="1141.2" r="4.15"/><circle cx="63.1" cy="1139.2" r="4.15"/><circle cx="420.1" cy="1139.2" r="4.15"/><circle cx="62.0" cy="1146.2" r="4.15"/><circle cx="419.0" cy="1146.2" r="4.15"/><circle cx="58.0" cy="1144.2" r="4.15"/><circle cx="415.0" cy="1144.2" r="4.15"/><circle cx="74.1" cy="1137.2" r="4.15"/><circle cx="431.1" cy="1137.2" r="4.15"/><circle cx="78.1" cy="1139.2" r="4.15"/><circle cx="435.1" cy="1139.2" r="4.15"/><circle cx="73.1" cy="1143.2" r="4.15"/><circle cx="430.1" cy="1143.2" r="4.15"/><circle cx="77.1" cy="1145.2" r="4.15"/><circle cx="434.1" cy="1145.2" r="4.15"/><circle cx="83.1" cy="1141.2" r="4.15"/><circle cx="440.1" cy="1141.2" r="4.15"/><circle cx="91.1" cy="1139.2" r="4.15"/><circle cx="448.1" cy="1139.2" r="4.15"/><circle cx="88.1" cy="1145.2" r="4.15"/><circle cx="445.1" cy="1145.2" r="4.15"/><circle cx="98.2" cy="1145.2" r="4.15"/><circle cx="455.2" cy="1145.2" r="4.15"/><circle cx="100.2" cy="1146.2" r="4.15"/><circle cx="457.2" cy="1146.2" r="4.15"/><circle cx="77.1" cy="1157.3" r="4.15"/><circle cx="434.1" cy="1157.3" r="4.15"/><circle cx="78.1" cy="1153.2" r="4.15"/><circle cx="435.1" cy="1153.2" r="4.15"/><circle cx="86.1" cy="1157.3" r="4.15"/><circle cx="443.1" cy="1157.3" r="4.15"/><circle cx="84.1" cy="1150.2" r="4.15"/><circle cx="441.1" cy="1150.2" r="4.15"/><circle cx="90.1" cy="1153.2" r="4.15"/><circle cx="447.1" cy="1153.2" r="4.15"/><circle cx="93.2" cy="1157.3" r="4.15"/><circle cx="450.2" cy="1157.3" r="4.15"/><circle cx="102.2" cy="1156.3" r="4.15"/><circle cx="459.2" cy="1156.3" r="4.15"/><circle cx="96.2" cy="1161.3" r="4.15"/><circle cx="453.2" cy="1161.3" r="4.15"/><circle cx="100.2" cy="1165.3" r="4.15"/><circle cx="457.2" cy="1165.3" r="4.15"/><circle cx="107.2" cy="1159.3" r="4.15"/><circle cx="464.2" cy="1159.3" r="4.15"/><circle cx="105.7" cy="1170.3" r="4.15"/><circle cx="462.7" cy="1170.3" r="4.15"/><circle cx="95.2" cy="1173.3" r="4.15"/><circle cx="452.2" cy="1173.3" r="4.15"/><circle cx="92.1" cy="1179.8" r="4.15"/><circle cx="449.1" cy="1179.8" r="4.15"/><circle cx="99.7" cy="1184.4" r="4.15"/><circle cx="456.7" cy="1184.4" r="4.15"/><circle cx="68.1" cy="1188.9" r="4.15"/><circle cx="425.1" cy="1188.9" r="4.15"/><circle cx="122.1" cy="1150.6" r="4.15"/><circle cx="479.1" cy="1150.6" r="4.15"/><circle cx="112.5" cy="1154.6" r="4.15"/><circle cx="469.5" cy="1154.6" r="4.15"/><circle cx="111.0" cy="1161.1" r="4.15"/><circle cx="468.0" cy="1161.1" r="4.15"/><circle cx="125.6" cy="1164.2" r="4.15"/><circle cx="482.6" cy="1164.2" r="4.15"/><circle cx="115.0" cy="1170.2" r="4.15"/><circle cx="472.0" cy="1170.2" r="4.15"/><circle cx="119.0" cy="1175.2" r="4.15"/><circle cx="476.0" cy="1175.2" r="4.15"/><circle cx="121.1" cy="1182.2" r="4.15"/><circle cx="478.1" cy="1182.2" r="4.15"/><circle cx="126.1" cy="1187.2" r="4.15"/><circle cx="483.1" cy="1187.2" r="4.15"/><circle cx="131.1" cy="1185.2" r="4.15"/><circle cx="488.1" cy="1185.2" r="4.15"/><circle cx="135.1" cy="1180.2" r="4.15"/><circle cx="492.1" cy="1180.2" r="4.15"/><circle cx="137.1" cy="1177.2" r="4.15"/><circle cx="494.1" cy="1177.2" r="4.15"/><circle cx="110.0" cy="1188.8" r="4.15"/><circle cx="467.0" cy="1188.8" r="4.15"/><circle cx="153.2" cy="1184.7" r="4.15"/><circle cx="510.2" cy="1184.7" r="4.15"/><circle cx="121.1" cy="1197.3" r="4.15"/><circle cx="478.1" cy="1197.3" r="4.15"/><circle cx="127.1" cy="1200.3" r="4.15"/><circle cx="484.1" cy="1200.3" r="4.15"/><circle cx="117.0" cy="1203.3" r="4.15"/><circle cx="474.0" cy="1203.3" r="4.15"/><circle cx="111.0" cy="1208.3" r="4.15"/><circle cx="468.0" cy="1208.3" r="4.15"/><circle cx="112.0" cy="1216.4" r="4.15"/><circle cx="469.0" cy="1216.4" r="4.15"/><circle cx="125.1" cy="1209.3" r="4.15"/><circle cx="482.1" cy="1209.3" r="4.15"/><circle cx="126.1" cy="1217.4" r="4.15"/><circle cx="483.1" cy="1217.4" r="4.15"/><circle cx="122.1" cy="1213.3" r="4.15"/><circle cx="479.1" cy="1213.3" r="4.15"/><circle cx="134.1" cy="1195.3" r="4.15"/><circle cx="491.1" cy="1195.3" r="4.15"/><circle cx="140.1" cy="1196.3" r="4.15"/><circle cx="497.1" cy="1196.3" r="4.15"/><circle cx="147.1" cy="1197.3" r="4.15"/><circle cx="504.1" cy="1197.3" r="4.15"/><circle cx="156.2" cy="1192.3" r="4.15"/><circle cx="513.2" cy="1192.3" r="4.15"/><circle cx="159.2" cy="1193.3" r="4.15"/><circle cx="516.2" cy="1193.3" r="4.15"/><circle cx="135.1" cy="1206.3" r="4.15"/><circle cx="492.1" cy="1206.3" r="4.15"/><circle cx="140.1" cy="1203.3" r="4.15"/><circle cx="497.1" cy="1203.3" r="4.15"/><circle cx="145.1" cy="1204.3" r="4.15"/><circle cx="502.1" cy="1204.3" r="4.15"/><circle cx="151.2" cy="1202.3" r="4.15"/><circle cx="508.2" cy="1202.3" r="4.15"/><circle cx="158.2" cy="1205.3" r="4.15"/><circle cx="515.2" cy="1205.3" r="4.15"/><circle cx="164.2" cy="1201.3" r="4.15"/><circle cx="521.2" cy="1201.3" r="4.15"/><circle cx="138.1" cy="1216.4" r="4.15"/><circle cx="495.1" cy="1216.4" r="4.15"/><circle cx="144.1" cy="1216.4" r="4.15"/><circle cx="501.1" cy="1216.4" r="4.15"/><circle cx="152.2" cy="1212.3" r="4.15"/><circle cx="509.2" cy="1212.3" r="4.15"/><circle cx="157.2" cy="1218.4" r="4.15"/><circle cx="514.2" cy="1218.4" r="4.15"/><circle cx="145.1" cy="1225.4" r="4.15"/><circle cx="502.1" cy="1225.4" r="4.15"/><circle cx="150.2" cy="1226.4" r="4.15"/><circle cx="507.2" cy="1226.4" r="4.15"/><circle cx="175.1" cy="1216.6" r="4.15"/><circle cx="532.1" cy="1216.6" r="4.15"/><circle cx="170.1" cy="1224.1" r="4.15"/><circle cx="527.1" cy="1224.1" r="4.15"/><circle cx="176.1" cy="1223.1" r="4.15"/><circle cx="533.1" cy="1223.1" r="4.15"/><circle cx="180.1" cy="1229.1" r="4.15"/><circle cx="537.1" cy="1229.1" r="4.15"/><circle cx="186.2" cy="1237.7" r="4.15"/><circle cx="543.2" cy="1237.7" r="4.15"/><circle cx="161.1" cy="1229.1" r="4.15"/><circle cx="518.1" cy="1229.1" r="4.15"/><circle cx="166.1" cy="1232.2" r="4.15"/><circle cx="523.1" cy="1232.2" r="4.15"/><circle cx="170.1" cy="1233.2" r="4.15"/><circle cx="527.1" cy="1233.2" r="4.15"/><circle cx="156.1" cy="1234.2" r="4.15"/><circle cx="513.1" cy="1234.2" r="4.15"/><circle cx="162.1" cy="1242.2" r="4.15"/><circle cx="519.1" cy="1242.2" r="4.15"/><circle cx="170.1" cy="1243.2" r="4.15"/><circle cx="527.1" cy="1243.2" r="4.15"/><circle cx="163.1" cy="1249.2" r="4.15"/><circle cx="520.1" cy="1249.2" r="4.15"/><circle cx="171.1" cy="1252.2" r="4.15"/><circle cx="528.1" cy="1252.2" r="4.15"/><circle cx="177.1" cy="1249.2" r="4.15"/><circle cx="534.1" cy="1249.2" r="4.15"/><circle cx="180.1" cy="1254.2" r="4.15"/><circle cx="537.1" cy="1254.2" r="4.15"/><circle cx="193.2" cy="1250.2" r="4.15"/><circle cx="550.2" cy="1250.2" r="4.15"/><circle cx="189.2" cy="1253.2" r="4.15"/><circle cx="546.2" cy="1253.2" r="4.15"/><circle cx="190.2" cy="1260.3" r="4.15"/><circle cx="547.2" cy="1260.3" r="4.15"/><circle cx="184.1" cy="1258.2" r="4.15"/><circle cx="541.1" cy="1258.2" r="4.15"/><circle cx="182.1" cy="1263.3" r="4.15"/><circle cx="539.1" cy="1263.3" r="4.15"/><circle cx="178.1" cy="1262.3" r="4.15"/><circle cx="535.1" cy="1262.3" r="4.15"/><circle cx="180.1" cy="1270.3" r="4.15"/><circle cx="537.1" cy="1270.3" r="4.15"/><circle cx="186.2" cy="1277.3" r="4.15"/><circle cx="543.2" cy="1277.3" r="4.15"/><circle cx="192.2" cy="1273.3" r="4.15"/><circle cx="549.2" cy="1273.3" r="4.15"/><circle cx="196.2" cy="1272.3" r="4.15"/><circle cx="553.2" cy="1272.3" r="4.15"/><circle cx="195.2" cy="1280.3" r="4.15"/><circle cx="552.2" cy="1280.3" r="4.15"/><circle cx="190.2" cy="1288.4" r="4.15"/><circle cx="547.2" cy="1288.4" r="4.15"/><circle cx="204.0" cy="1250.5" r="4.15"/><circle cx="561.0" cy="1250.5" r="4.15"/><circle cx="217.1" cy="1259.1" r="4.15"/><circle cx="574.1" cy="1259.1" r="4.15"/><circle cx="206.1" cy="1265.6" r="4.15"/><circle cx="563.1" cy="1265.6" r="4.15"/><circle cx="211.1" cy="1267.1" r="4.15"/><circle cx="568.1" cy="1267.1" r="4.15"/><circle cx="228.1" cy="1263.1" r="4.15"/><circle cx="585.1" cy="1263.1" r="4.15"/><circle cx="234.1" cy="1266.1" r="4.15"/><circle cx="226.1" cy="1271.1" r="4.15"/><circle cx="583.1" cy="1271.1" r="4.15"/><circle cx="213.1" cy="1274.1" r="4.15"/><circle cx="570.1" cy="1274.1" r="4.15"/><circle cx="217.1" cy="1276.1" r="4.15"/><circle cx="574.1" cy="1276.1" r="4.15"/><circle cx="202.0" cy="1279.1" r="4.15"/><circle cx="559.0" cy="1279.1" r="4.15"/><circle cx="200.0" cy="1284.2" r="4.15"/><circle cx="557.0" cy="1284.2" r="4.15"/><circle cx="206.1" cy="1284.2" r="4.15"/><circle cx="563.1" cy="1284.2" r="4.15"/><circle cx="210.1" cy="1282.2" r="4.15"/><circle cx="567.1" cy="1282.2" r="4.15"/><circle cx="215.1" cy="1283.2" r="4.15"/><circle cx="572.1" cy="1283.2" r="4.15"/><circle cx="220.1" cy="1280.1" r="4.15"/><circle cx="577.1" cy="1280.1" r="4.15"/><circle cx="224.1" cy="1280.1" r="4.15"/><circle cx="581.1" cy="1280.1" r="4.15"/><circle cx="232.1" cy="1277.1" r="4.15"/><circle cx="589.1" cy="1277.1" r="4.15"/><circle cx="220.1" cy="1286.2" r="4.15"/><circle cx="577.1" cy="1286.2" r="4.15"/><circle cx="224.1" cy="1287.2" r="4.15"/><circle cx="581.1" cy="1287.2" r="4.15"/><circle cx="228.1" cy="1287.2" r="4.15"/><circle cx="585.1" cy="1287.2" r="4.15"/><circle cx="233.1" cy="1285.2" r="4.15"/><circle cx="590.1" cy="1285.2" r="4.15"/><circle cx="237.2" cy="1288.2" r="4.15"/><circle cx="241.2" cy="1281.1" r="4.15"/><circle cx="246.2" cy="1285.2" r="4.15"/><circle cx="244.2" cy="1290.2" r="4.15"/><circle cx="207.1" cy="1293.2" r="4.15"/><circle cx="564.1" cy="1293.2" r="4.15"/><circle cx="213.1" cy="1292.2" r="4.15"/><circle cx="570.1" cy="1292.2" r="4.15"/><circle cx="216.1" cy="1296.2" r="4.15"/><circle cx="573.1" cy="1296.2" r="4.15"/><circle cx="219.1" cy="1300.2" r="4.15"/><circle cx="576.1" cy="1300.2" r="4.15"/><circle cx="225.1" cy="1300.2" r="4.15"/><circle cx="582.1" cy="1300.2" r="4.15"/><circle cx="230.1" cy="1301.2" r="4.15"/><circle cx="587.1" cy="1301.2" r="4.15"/><circle cx="223.1" cy="1294.2" r="4.15"/><circle cx="580.1" cy="1294.2" r="4.15"/><circle cx="229.1" cy="1294.2" r="4.15"/><circle cx="586.1" cy="1294.2" r="4.15"/><circle cx="234.1" cy="1292.2" r="4.15"/><circle cx="240.2" cy="1294.2" r="4.15"/><circle cx="244.2" cy="1299.2" r="4.15"/><circle cx="248.2" cy="1298.2" r="4.15"/><circle cx="209.1" cy="1314.3" r="4.15"/><circle cx="566.1" cy="1314.3" r="4.15"/><circle cx="214.1" cy="1316.8" r="4.15"/><circle cx="571.1" cy="1316.8" r="4.15"/><circle cx="232.1" cy="1315.3" r="4.15"/><circle cx="589.1" cy="1315.3" r="4.15"/><circle cx="237.2" cy="1312.3" r="4.15"/><circle cx="244.2" cy="1308.2" r="4.15"/><circle cx="251.5" cy="1273.6" r="4.15"/><circle cx="261.6" cy="1274.6" r="4.15"/><circle cx="265.1" cy="1276.1" r="4.15"/><circle cx="258.0" cy="1283.2" r="4.15"/><circle cx="255.0" cy="1286.2" r="4.15"/><circle cx="251.0" cy="1292.2" r="4.15"/><circle cx="251.0" cy="1296.7" r="4.15"/><circle cx="262.1" cy="1287.2" r="4.15"/><circle cx="268.1" cy="1286.2" r="4.15"/><circle cx="273.1" cy="1287.2" r="4.15"/><circle cx="278.1" cy="1289.2" r="4.15"/><circle cx="257.0" cy="1300.2" r="4.15"/><circle cx="265.1" cy="1296.2" r="4.15"/><circle cx="270.1" cy="1296.2" r="4.15"/><circle cx="275.1" cy="1298.2" r="4.15"/><circle cx="280.1" cy="1303.2" r="4.15"/><circle cx="278.1" cy="1294.2" r="4.15"/><circle cx="264.1" cy="1308.2" r="4.15"/><circle cx="268.1" cy="1310.3" r="4.15"/><circle cx="271.1" cy="1308.2" r="4.15"/><circle cx="252.0" cy="1312.3" r="4.15"/><circle cx="274.1" cy="1320.3" r="4.15"/><circle cx="273.6" cy="1329.8" r="4.15"/><circle cx="285.1" cy="1272.1" r="4.15"/><circle cx="280.1" cy="1280.1" r="4.15"/><circle cx="287.1" cy="1279.1" r="4.15"/><circle cx="292.2" cy="1277.1" r="4.15"/><circle cx="290.2" cy="1264.1" r="4.15"/><circle cx="295.2" cy="1267.1" r="4.15"/><circle cx="299.2" cy="1270.1" r="4.15"/><circle cx="301.2" cy="1255.1" r="4.15"/><circle cx="303.2" cy="1250.0" r="4.15"/><circle cx="304.2" cy="1260.1" r="4.15"/><circle cx="295.2" cy="1285.2" r="4.15"/><circle cx="299.2" cy="1282.2" r="4.15"/><circle cx="303.2" cy="1278.1" r="4.15"/><circle cx="285.1" cy="1295.2" r="4.15"/><circle cx="290.2" cy="1293.2" r="4.15"/><circle cx="292.2" cy="1302.2" r="4.15"/><circle cx="301.2" cy="1301.2" r="4.15"/><circle cx="304.2" cy="1300.2" r="4.15"/><circle cx="330.6" cy="1185.0" r="4.15"/><circle cx="334.6" cy="1190.0" r="4.15"/><circle cx="324.1" cy="1193.0" r="4.15"/><circle cx="325.1" cy="1197.1" r="4.15"/><circle cx="324.1" cy="1203.1" r="4.15"/><circle cx="330.1" cy="1207.1" r="4.15"/><circle cx="332.1" cy="1210.1" r="4.15"/><circle cx="338.1" cy="1208.1" r="4.15"/><circle cx="340.1" cy="1210.1" r="4.15"/><circle cx="338.1" cy="1214.1" r="4.15"/><circle cx="346.2" cy="1191.0" r="4.15"/><circle cx="343.1" cy="1200.1" r="4.15"/><circle cx="348.2" cy="1202.1" r="4.15"/><circle cx="354.2" cy="1198.1" r="4.15"/><circle cx="311.0" cy="1226.2" r="4.15"/><circle cx="318.1" cy="1229.2" r="4.15"/><circle cx="333.6" cy="1225.7" r="4.15"/><circle cx="340.1" cy="1227.2" r="4.15"/><circle cx="348.2" cy="1223.2" r="4.15"/><circle cx="340.1" cy="1235.2" r="4.15"/><circle cx="330.6" cy="1240.7" r="4.15"/><circle cx="306.0" cy="1249.3" r="4.15"/><circle cx="316.1" cy="1246.2" r="4.15"/><circle cx="314.0" cy="1257.8" r="4.15"/><circle cx="310.0" cy="1260.3" r="4.15"/><circle cx="325.1" cy="1250.3" r="4.15"/><circle cx="330.1" cy="1250.3" r="4.15"/><circle cx="331.1" cy="1259.3" r="4.15"/><circle cx="332.1" cy="1255.3" r="4.15"/><circle cx="312.0" cy="1273.3" r="4.15"/><circle cx="307.0" cy="1274.3" r="4.15"/><circle cx="314.0" cy="1275.3" r="4.15"/><circle cx="326.1" cy="1271.3" r="4.15"/><circle cx="322.1" cy="1275.3" r="4.15"/><circle cx="316.6" cy="1285.4" r="4.15"/><circle cx="328.1" cy="1284.9" r="4.15"/><circle cx="307.0" cy="1287.4" r="4.15"/><circle cx="384.5" cy="1107.4" r="4.15"/><circle cx="389.8" cy="1112.1" r="4.15"/><circle cx="353.1" cy="1121.4" r="4.15"/><circle cx="363.1" cy="1122.1" r="4.15"/><circle cx="385.8" cy="1119.4" r="4.15"/><circle cx="375.8" cy="1124.8" r="4.15"/><circle cx="380.5" cy="1126.1" r="4.15"/><circle cx="397.9" cy="1121.4" r="4.15"/><circle cx="404.6" cy="1122.1" r="4.15"/><circle cx="409.9" cy="1124.8" r="4.15"/><circle cx="339.0" cy="1145.5" r="4.15"/><circle cx="348.4" cy="1143.5" r="4.15"/><circle cx="353.7" cy="1140.8" r="4.15"/><circle cx="360.4" cy="1135.5" r="4.15"/><circle cx="365.8" cy="1134.1" r="4.15"/><circle cx="371.1" cy="1131.4" r="4.15"/><circle cx="375.1" cy="1130.1" r="4.15"/><circle cx="352.4" cy="1148.8" r="4.15"/><circle cx="359.1" cy="1150.2" r="4.15"/><circle cx="364.4" cy="1143.5" r="4.15"/><circle cx="369.8" cy="1140.8" r="4.15"/><circle cx="379.1" cy="1134.1" r="4.15"/><circle cx="384.5" cy="1132.8" r="4.15"/><circle cx="391.2" cy="1131.4" r="4.15"/><circle cx="395.2" cy="1130.1" r="4.15"/><circle cx="401.9" cy="1130.1" r="4.15"/><circle cx="407.2" cy="1128.8" r="4.15"/><circle cx="381.8" cy="1143.5" r="4.15"/><circle cx="388.5" cy="1146.1" r="4.15"/><circle cx="393.9" cy="1143.5" r="4.15"/><circle cx="399.2" cy="1138.1" r="4.15"/><circle cx="404.6" cy="1140.8" r="4.15"/><circle cx="409.9" cy="1136.8" r="4.15"/><circle cx="372.5" cy="1148.8" r="4.15"/><circle cx="377.8" cy="1154.2" r="4.15"/><circle cx="371.1" cy="1155.5" r="4.15"/><circle cx="367.1" cy="1152.8" r="4.15"/><circle cx="381.8" cy="1155.5" r="4.15"/><circle cx="401.9" cy="1147.5" r="4.15"/><circle cx="408.6" cy="1144.8" r="4.15"/><circle cx="389.8" cy="1150.2" r="4.15"/><circle cx="363.8" cy="1162.9" r="4.15"/><circle cx="369.8" cy="1160.9" r="4.15"/><circle cx="375.1" cy="1158.2" r="4.15"/><circle cx="345.7" cy="1156.8" r="4.15"/><circle cx="351.1" cy="1159.5" r="4.15"/><circle cx="352.4" cy="1166.2" r="4.15"/><circle cx="341.7" cy="1164.9" r="4.15"/><circle cx="341.7" cy="1174.2" r="4.15"/><circle cx="347.0" cy="1175.6" r="4.15"/><circle cx="131.6" cy="1249.7" r="4.15"/><circle cx="488.6" cy="1249.7" r="4.15"/><circle cx="76.5" cy="1297.7" r="4.15"/><circle cx="433.5" cy="1297.7" r="4.15"/><circle cx="162.8" cy="1310.8" r="4.15"/><circle cx="519.8" cy="1310.8" r="4.15"/><circle cx="141.3" cy="1203.4" r="4.15"/><circle cx="498.3" cy="1203.4" r="4.15"/><circle cx="148.3" cy="1224.5" r="4.15"/><circle cx="505.3" cy="1224.5" r="4.15"/><circle cx="160.0" cy="1230.0" r="4.15"/><circle cx="517.0" cy="1230.0" r="4.15"/><circle cx="136.0" cy="1196.4" r="4.15"/><circle cx="493.0" cy="1196.4" r="4.15"/><circle cx="269.2" cy="1300.5" r="4.15"/><circle cx="275.3" cy="1291.5" r="4.15"/><circle cx="266.2" cy="1282.4" r="4.15"/><circle cx="296.3" cy="1276.4" r="4.15"/><circle cx="302.3" cy="1282.4" r="4.15"/><circle cx="374.6" cy="1324.6" r="4.15"/><circle cx="409.9" cy="1266.3" r="4.15"/><circle cx="137.4" cy="1207.6" r="4.15"/><circle cx="494.4" cy="1207.6" r="4.15"/><circle cx="146.6" cy="1202.1" r="4.15"/><circle cx="503.6" cy="1202.1" r="4.15"/><circle cx="153.9" cy="1223.2" r="4.15"/><circle cx="510.9" cy="1223.2" r="4.15"/><circle cx="142.9" cy="1231.5" r="4.15"/><circle cx="499.9" cy="1231.5" r="4.15"/><circle cx="163.1" cy="1237.0" r="4.15"/><circle cx="520.1" cy="1237.0" r="4.15"/><circle cx="179.7" cy="1257.3" r="4.15"/><circle cx="536.7" cy="1257.3" r="4.15"/><circle cx="185.2" cy="1264.6" r="4.15"/><circle cx="542.2" cy="1264.6" r="4.15"/><circle cx="218.3" cy="1290.4" r="4.15"/><circle cx="575.3" cy="1290.4" r="4.15"/><circle cx="229.3" cy="1290.4" r="4.15"/><circle cx="586.3" cy="1290.4" r="4.15"/><circle cx="86.8" cy="1150.7" r="4.15"/><circle cx="443.8" cy="1150.7" r="4.15"/><circle cx="79.4" cy="1145.2" r="4.15"/><circle cx="436.4" cy="1145.2" r="4.15"/><circle cx="97.8" cy="1150.7" r="4.15"/><circle cx="454.8" cy="1150.7" r="4.15"/><circle cx="94.1" cy="1160.0" r="4.15"/><circle cx="451.1" cy="1160.0" r="4.15"/><circle cx="81.3" cy="1152.5" r="4.15"/><circle cx="438.3" cy="1152.5" r="4.15"/><circle cx="369.0" cy="1136.8" r="4.15"/><circle cx="378.3" cy="1143.9" r="4.15"/><circle cx="390.0" cy="1136.8" r="4.15"/><circle cx="401.7" cy="1134.5" r="4.15"/><circle cx="385.4" cy="1150.9" r="4.15"/><circle cx="357.3" cy="1143.9" r="4.15"/><circle cx="396.0" cy="1128.0" r="4.15"/></g>
</svg></body></html>
